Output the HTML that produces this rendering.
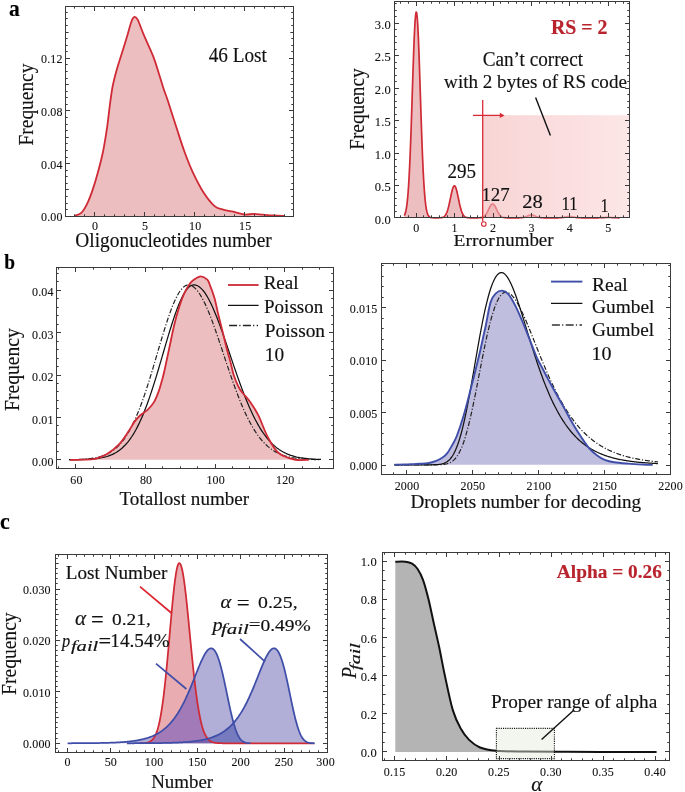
<!DOCTYPE html>
<html><head><meta charset="utf-8"><style>
html,body{margin:0;padding:0;background:#fff;width:685px;height:792px;overflow:hidden}
svg{display:block}
svg{will-change:transform}
</style></head><body>
<svg width="685" height="792" viewBox="0 0 685 792">
<rect width="685" height="792" fill="#fff"/>
<text transform="translate(8.95,16.40) scale(0.9295,1)" font-size="23.19" font-family="Liberation Serif" font-weight="bold" font-style="normal" fill="#000" stroke="#000" stroke-width="0.15">a</text>
<path d="M74.5,215.8 C75.63,215.32 79.27,214.75 81.3,212.9 C83.33,211.05 84.88,208.33 86.7,204.7 C88.52,201.07 90.38,196.3 92.2,191.1 C94.02,185.9 95.8,180.07 97.6,173.5 C99.4,166.93 101.42,159.4 103,151.7 C104.58,144 105.97,135 107.1,127.3 C108.23,119.6 108.88,112.3 109.8,105.5 C110.72,98.7 111.47,92.38 112.6,86.5 C113.73,80.62 115.02,75.85 116.6,70.2 C118.18,64.55 120.28,58.48 122.1,52.6 C123.92,46.72 125.92,40.17 127.5,34.9 C129.08,29.63 130.42,24 131.6,21 C132.78,18 133.57,17.08 134.6,16.9 C135.63,16.72 136.27,16.9 137.8,19.9 C139.33,22.9 141.22,28.78 143.8,34.9 C146.38,41.02 150.82,50.27 153.3,56.6 C155.78,62.93 157,67.58 158.7,72.9 C160.4,78.22 161.93,83.73 163.5,88.5 C165.07,93.27 165.97,95.07 168.1,101.5 C170.23,107.93 173.58,118.77 176.3,127.1 C179.02,135.43 181.68,144.05 184.4,151.5 C187.12,158.95 189.43,165.02 192.6,171.8 C195.77,178.58 199.78,186.53 203.4,192.2 C207.02,197.87 211.13,202.93 214.3,205.8 C217.47,208.67 219.25,208.42 222.4,209.4 C225.55,210.38 229.58,210.85 233.2,211.7 C236.82,212.55 240.7,214.13 244.1,214.5 C247.5,214.87 250.43,213.87 253.6,213.9 C256.77,213.93 259.7,214.43 263.1,214.7 C266.5,214.97 270.38,215.3 274,215.5 C277.62,215.7 283,215.83 284.8,215.9 L284.8,216 L74.5,216 Z" fill="#edbec0"/>
<path d="M74.5,215.8 C75.63,215.32 79.27,214.75 81.3,212.9 C83.33,211.05 84.88,208.33 86.7,204.7 C88.52,201.07 90.38,196.3 92.2,191.1 C94.02,185.9 95.8,180.07 97.6,173.5 C99.4,166.93 101.42,159.4 103,151.7 C104.58,144 105.97,135 107.1,127.3 C108.23,119.6 108.88,112.3 109.8,105.5 C110.72,98.7 111.47,92.38 112.6,86.5 C113.73,80.62 115.02,75.85 116.6,70.2 C118.18,64.55 120.28,58.48 122.1,52.6 C123.92,46.72 125.92,40.17 127.5,34.9 C129.08,29.63 130.42,24 131.6,21 C132.78,18 133.57,17.08 134.6,16.9 C135.63,16.72 136.27,16.9 137.8,19.9 C139.33,22.9 141.22,28.78 143.8,34.9 C146.38,41.02 150.82,50.27 153.3,56.6 C155.78,62.93 157,67.58 158.7,72.9 C160.4,78.22 161.93,83.73 163.5,88.5 C165.07,93.27 165.97,95.07 168.1,101.5 C170.23,107.93 173.58,118.77 176.3,127.1 C179.02,135.43 181.68,144.05 184.4,151.5 C187.12,158.95 189.43,165.02 192.6,171.8 C195.77,178.58 199.78,186.53 203.4,192.2 C207.02,197.87 211.13,202.93 214.3,205.8 C217.47,208.67 219.25,208.42 222.4,209.4 C225.55,210.38 229.58,210.85 233.2,211.7 C236.82,212.55 240.7,214.13 244.1,214.5 C247.5,214.87 250.43,213.87 253.6,213.9 C256.77,213.93 259.7,214.43 263.1,214.7 C266.5,214.97 270.38,215.3 274,215.5 C277.62,215.7 283,215.83 284.8,215.9" fill="none" stroke="#cf2a35" stroke-width="1.8"/>
<rect x="65.5" y="6.5" width="228" height="210" fill="none" stroke="#3a3a3a" stroke-width="1"/>
<path d="M74.5,216.5v-2.2M74.5,6.5v2.2M84.5,216.5v-2.2M84.5,6.5v2.2M94.5,216.5v-4.5M94.5,6.5v4.5M104.5,216.5v-2.2M104.5,6.5v2.2M114.5,216.5v-2.2M114.5,6.5v2.2M124.5,216.5v-2.2M124.5,6.5v2.2M134.5,216.5v-2.2M134.5,6.5v2.2M144.5,216.5v-4.5M144.5,6.5v4.5M154.5,216.5v-2.2M154.5,6.5v2.2M164.5,216.5v-2.2M164.5,6.5v2.2M174.5,216.5v-2.2M174.5,6.5v2.2M184.5,216.5v-2.2M184.5,6.5v2.2M194.5,216.5v-4.5M194.5,6.5v4.5M204.5,216.5v-2.2M204.5,6.5v2.2M214.5,216.5v-2.2M214.5,6.5v2.2M224.5,216.5v-2.2M224.5,6.5v2.2M234.5,216.5v-2.2M234.5,6.5v2.2M244.5,216.5v-4.5M244.5,6.5v4.5M254.5,216.5v-2.2M254.5,6.5v2.2M264.5,216.5v-2.2M264.5,6.5v2.2M274.5,216.5v-2.2M274.5,6.5v2.2M284.5,216.5v-2.2M284.5,6.5v2.2M65.5,209.5h2.2M293.5,209.5h-2.2M65.5,203.5h2.2M293.5,203.5h-2.2M65.5,196.5h2.2M293.5,196.5h-2.2M65.5,189.5h3.2M293.5,189.5h-3.2M65.5,183.5h2.2M293.5,183.5h-2.2M65.5,176.5h2.2M293.5,176.5h-2.2M65.5,170.5h2.2M293.5,170.5h-2.2M65.5,163.5h4.5M293.5,163.5h-4.5M65.5,157.5h2.2M293.5,157.5h-2.2M65.5,150.5h2.2M293.5,150.5h-2.2M65.5,143.5h2.2M293.5,143.5h-2.2M65.5,137.5h3.2M293.5,137.5h-3.2M65.5,130.5h2.2M293.5,130.5h-2.2M65.5,124.5h2.2M293.5,124.5h-2.2M65.5,117.5h2.2M293.5,117.5h-2.2M65.5,110.5h4.5M293.5,110.5h-4.5M65.5,104.5h2.2M293.5,104.5h-2.2M65.5,97.5h2.2M293.5,97.5h-2.2M65.5,91.5h2.2M293.5,91.5h-2.2M65.5,84.5h3.2M293.5,84.5h-3.2M65.5,78.5h2.2M293.5,78.5h-2.2M65.5,71.5h2.2M293.5,71.5h-2.2M65.5,64.5h2.2M293.5,64.5h-2.2M65.5,58.5h4.5M293.5,58.5h-4.5M65.5,51.5h2.2M293.5,51.5h-2.2M65.5,45.5h2.2M293.5,45.5h-2.2M65.5,38.5h2.2M293.5,38.5h-2.2M65.5,32.5h3.2M293.5,32.5h-3.2M65.5,25.5h2.2M293.5,25.5h-2.2M65.5,18.5h2.2M293.5,18.5h-2.2M65.5,12.5h2.2M293.5,12.5h-2.2" stroke="#3a3a3a" stroke-width="1" fill="none"/>
<text x="62.6" y="221.26" font-size="12" text-anchor="end" font-weight="normal" font-style="normal" fill="#111" stroke="#111" stroke-width="0.1" font-family="Liberation Serif" letter-spacing="0.15">0.00</text>
<text x="62.6" y="168.66" font-size="12" text-anchor="end" font-weight="normal" font-style="normal" fill="#111" stroke="#111" stroke-width="0.1" font-family="Liberation Serif" letter-spacing="0.15">0.04</text>
<text x="62.6" y="116.06" font-size="12" text-anchor="end" font-weight="normal" font-style="normal" fill="#111" stroke="#111" stroke-width="0.1" font-family="Liberation Serif" letter-spacing="0.15">0.08</text>
<text x="62.6" y="63.46" font-size="12" text-anchor="end" font-weight="normal" font-style="normal" fill="#111" stroke="#111" stroke-width="0.1" font-family="Liberation Serif" letter-spacing="0.15">0.12</text>
<text x="95.2" y="230.16" font-size="12" text-anchor="middle" font-weight="normal" font-style="normal" fill="#111" stroke="#111" stroke-width="0.1" font-family="Liberation Serif" letter-spacing="0.15">0</text>
<text x="145.2" y="230.16" font-size="12" text-anchor="middle" font-weight="normal" font-style="normal" fill="#111" stroke="#111" stroke-width="0.1" font-family="Liberation Serif" letter-spacing="0.15">5</text>
<text x="195.2" y="230.16" font-size="12" text-anchor="middle" font-weight="normal" font-style="normal" fill="#111" stroke="#111" stroke-width="0.1" font-family="Liberation Serif" letter-spacing="0.15">10</text>
<text x="245.2" y="230.16" font-size="12" text-anchor="middle" font-weight="normal" font-style="normal" fill="#111" stroke="#111" stroke-width="0.1" font-family="Liberation Serif" letter-spacing="0.15">15</text>
<text transform="translate(75.32,247.20) scale(0.9554,1)" font-size="20.29" font-family="Liberation Serif" font-weight="normal" font-style="normal" fill="#111" stroke="#111" stroke-width="0.15">Oligonucleotides number</text>
<text transform="translate(32.70,145.48) rotate(-90) scale(0.9555,1)" font-size="20.31" font-family="Liberation Serif" font-weight="normal" font-style="normal" fill="#111" stroke="#111" stroke-width="0.15">Frequency</text>
<text transform="translate(208.72,62.00) scale(0.9192,1)" font-size="20.92" font-family="Liberation Serif" font-weight="normal" font-style="normal" fill="#111" stroke="#111" stroke-width="0.15">46 Lost</text>
<path d="M404.3,215.51 L404.84,214.41 L405.38,212.86 L405.91,210.73 L406.45,207.86 L406.99,204.08 L407.53,199.21 L408.07,193.05 L408.6,185.45 L409.14,176.28 L409.68,165.45 L410.22,152.99 L410.76,139 L411.29,123.71 L411.83,107.46 L412.37,90.73 L412.91,74.08 L413.45,58.17 L413.98,43.68 L414.52,31.27 L415.06,21.56 L415.6,15.05 L416.14,12.07 L416.67,12.8 L417.21,17.18 L417.75,24.99 L418.29,35.82 L418.83,49.12 L419.36,64.25 L419.9,80.53 L420.44,97.28 L420.98,113.89 L421.52,129.81 L422.05,144.63 L422.59,158.05 L423.13,169.88 L423.67,180.05 L424.21,188.6 L424.74,195.62 L425.28,201.25 L425.82,205.68 L426.36,209.08 L426.9,211.64 L427.43,213.52 L427.97,214.88 L428.51,215.85 L429.05,216.52 L429.59,216.97 L430.12,217.28 L430.66,217.47 L431.2,217.6 L431.74,217.68 L432.28,217.73 L432.81,217.76 L433.35,217.78 L433.89,217.79 L434.43,217.79 L434.97,217.8 L435.5,217.8 L436.04,217.8 L436.58,217.8 L437.12,217.8 L437.66,217.79 L438.19,217.79 L438.73,217.79 L439.27,217.77 L439.81,217.76 L440.35,217.73 L440.88,217.69 L441.42,217.63 L441.96,217.55 L442.5,217.42 L443.04,217.23 L443.57,216.98 L444.11,216.63 L444.65,216.16 L445.19,215.54 L445.73,214.75 L446.26,213.76 L446.8,212.53 L447.34,211.06 L447.88,209.33 L448.42,207.35 L448.95,205.13 L449.49,202.73 L450.03,200.18 L450.57,197.58 L451.11,195 L451.64,192.56 L452.18,190.36 L452.72,188.5 L453.26,187.08 L453.8,186.16 L454.33,185.8 L454.87,186.02 L455.41,186.8 L455.95,188.11 L456.49,189.87 L457.02,192 L457.56,194.39 L458.1,196.94 L458.64,199.54 L459.18,202.11 L459.71,204.56 L460.25,206.83 L460.79,208.87 L461.33,210.66 L461.87,212.19 L462.4,213.48 L462.94,214.53 L463.48,215.37 L464.02,216.02 L464.56,216.53 L465.09,216.9 L465.63,217.18 L466.17,217.38 L466.71,217.52 L467.25,217.62 L467.78,217.68 L468.32,217.73 L468.86,217.75 L469.4,217.77 L469.94,217.78 L470.47,217.79 L471.01,217.79 L471.55,217.8 L472.09,217.8 L472.63,217.8 L473.16,217.8 L473.7,217.8 L474.24,217.8 L474.78,217.8 L475.32,217.8 L475.85,217.8 L476.39,217.8 L476.93,217.79 L477.47,217.79 L478.01,217.78 L478.54,217.77 L479.08,217.75 L479.62,217.73 L480.16,217.69 L480.7,217.64 L481.23,217.56 L481.77,217.45 L482.31,217.3 L482.85,217.09 L483.39,216.83 L483.92,216.49 L484.46,216.06 L485,215.53 L485.54,214.9 L486.08,214.15 L486.61,213.3 L487.15,212.34 L487.69,211.3 L488.23,210.21 L488.77,209.08 L489.3,207.97 L489.84,206.92 L490.38,205.97 L490.92,205.17 L491.46,204.55 L491.99,204.16 L492.53,204 L493.07,204.09 L493.61,204.43 L494.15,204.99 L494.68,205.75 L495.22,206.67 L495.76,207.7 L496.3,208.8 L496.84,209.92 L497.37,211.03 L497.91,212.09 L498.45,213.06 L498.99,213.94 L499.53,214.72 L500.06,215.38 L500.6,215.93 L501.14,216.39 L501.68,216.75 L502.22,217.03 L502.75,217.25 L503.29,217.41 L503.83,217.53 L504.37,217.62 L504.91,217.68 L505.44,217.72 L505.98,217.75 L506.52,217.77 L507.06,217.78 L507.6,217.79 L508.13,217.79 L508.67,217.8 L509.21,217.8 L509.75,217.8 L510.29,217.8 L510.82,217.8 L511.36,217.8 L511.9,217.8 L512.44,217.8 L512.98,217.8 L513.51,217.8 L514.05,217.8 L514.59,217.8 L515.13,217.8 L515.67,217.8 L516.2,217.8 L516.74,217.8 L517.28,217.79 L517.82,217.79 L518.36,217.78 L518.89,217.78 L519.43,217.76 L519.97,217.75 L520.51,217.72 L521.05,217.69 L521.58,217.64 L522.12,217.59 L522.66,217.51 L523.2,217.42 L523.74,217.31 L524.27,217.17 L524.81,217.02 L525.35,216.84 L525.89,216.64 L526.43,216.43 L526.96,216.2 L527.5,215.97 L528.04,215.75 L528.58,215.54 L529.12,215.36 L529.65,215.2 L530.19,215.09 L530.73,215.02 L531.27,215 L531.81,215.03 L532.34,215.11 L532.88,215.24 L533.42,215.4 L533.96,215.59 L534.5,215.81 L535.03,216.03 L535.57,216.26 L536.11,216.48 L536.65,216.69 L537.19,216.89 L537.72,217.06 L538.26,217.21 L538.8,217.34 L539.34,217.45 L539.88,217.53 L540.41,217.6 L540.95,217.66 L541.49,217.7 L542.03,217.73 L542.57,217.75 L543.1,217.77 L543.64,217.78 L544.18,217.79 L544.72,217.79 L545.26,217.79 L545.79,217.8 L546.33,217.8 L546.87,217.8 L547.41,217.8 L547.95,217.8 L548.48,217.8 L549.02,217.8 L549.56,217.8 L550.1,217.8 L550.64,217.8 L551.17,217.8 L551.71,217.8 L552.25,217.8 L552.79,217.8 L553.33,217.8 L553.86,217.8 L554.4,217.8 L554.94,217.8 L555.48,217.8 L556.02,217.8 L556.55,217.79 L557.09,217.79 L557.63,217.79 L558.17,217.78 L558.71,217.77 L559.24,217.75 L559.78,217.74 L560.32,217.71 L560.86,217.68 L561.4,217.64 L561.93,217.59 L562.47,217.53 L563.01,217.47 L563.55,217.39 L564.09,217.3 L564.62,217.2 L565.16,217.1 L565.7,216.99 L566.24,216.89 L566.78,216.79 L567.31,216.7 L567.85,216.62 L568.39,216.56 L568.93,216.52 L569.47,216.5 L570,216.51 L570.54,216.54 L571.08,216.59 L571.62,216.66 L572.16,216.74 L572.69,216.84 L573.23,216.94 L573.77,217.05 L574.31,217.15 L574.85,217.25 L575.38,217.34 L575.92,217.43 L576.46,217.5 L577,217.56 L577.54,217.62 L578.07,217.66 L578.61,217.7 L579.15,217.72 L579.69,217.75 L580.23,217.76 L580.76,217.77 L581.3,217.78 L581.84,217.79 L582.38,217.79 L582.92,217.79 L583.45,217.8 L583.99,217.8 L584.53,217.8 L585.07,217.8 L585.61,217.8 L586.14,217.8 L586.68,217.8 L587.22,217.8 L587.76,217.8 L588.3,217.8 L588.83,217.8 L589.37,217.8 L589.91,217.8 L590.45,217.8 L590.99,217.8 L591.52,217.8 L592.06,217.8 L592.6,217.8 L593.14,217.8 L593.68,217.8 L594.21,217.8 L594.75,217.8 L595.29,217.8 L595.83,217.8 L596.37,217.79 L596.9,217.79 L597.44,217.79 L597.98,217.78 L598.52,217.78 L599.06,217.77 L599.59,217.76 L600.13,217.74 L600.67,217.73 L601.21,217.71 L601.75,217.68 L602.28,217.66 L602.82,217.63 L603.36,217.6 L603.9,217.56 L604.44,217.53 L604.97,217.5 L605.51,217.47 L606.05,217.44 L606.59,217.42 L607.13,217.41 L607.66,217.4 L608.2,217.4 L608.74,217.41 L609.28,217.42 L609.82,217.44 L610.35,217.46 L610.89,217.49 L611.43,217.52 L611.97,217.56 L612.51,217.59 L613.04,217.62 L613.58,217.65 L614.12,217.68 L614.66,217.7 L615.2,217.72 L615.73,217.74 L616.27,217.75 L616.81,217.76 L617.35,217.77 L617.89,217.78 L618.42,217.79 L618.96,217.79 L619.5,217.79 L619.5,217.8 L404.3,217.8 Z" fill="#edbec0"/>
<path d="M404.3,215.51 L404.84,214.41 L405.38,212.86 L405.91,210.73 L406.45,207.86 L406.99,204.08 L407.53,199.21 L408.07,193.05 L408.6,185.45 L409.14,176.28 L409.68,165.45 L410.22,152.99 L410.76,139 L411.29,123.71 L411.83,107.46 L412.37,90.73 L412.91,74.08 L413.45,58.17 L413.98,43.68 L414.52,31.27 L415.06,21.56 L415.6,15.05 L416.14,12.07 L416.67,12.8 L417.21,17.18 L417.75,24.99 L418.29,35.82 L418.83,49.12 L419.36,64.25 L419.9,80.53 L420.44,97.28 L420.98,113.89 L421.52,129.81 L422.05,144.63 L422.59,158.05 L423.13,169.88 L423.67,180.05 L424.21,188.6 L424.74,195.62 L425.28,201.25 L425.82,205.68 L426.36,209.08 L426.9,211.64 L427.43,213.52 L427.97,214.88 L428.51,215.85 L429.05,216.52 L429.59,216.97 L430.12,217.28 L430.66,217.47 L431.2,217.6 L431.74,217.68 L432.28,217.73 L432.81,217.76 L433.35,217.78 L433.89,217.79 L434.43,217.79 L434.97,217.8 L435.5,217.8 L436.04,217.8 L436.58,217.8 L437.12,217.8 L437.66,217.79 L438.19,217.79 L438.73,217.79 L439.27,217.77 L439.81,217.76 L440.35,217.73 L440.88,217.69 L441.42,217.63 L441.96,217.55 L442.5,217.42 L443.04,217.23 L443.57,216.98 L444.11,216.63 L444.65,216.16 L445.19,215.54 L445.73,214.75 L446.26,213.76 L446.8,212.53 L447.34,211.06 L447.88,209.33 L448.42,207.35 L448.95,205.13 L449.49,202.73 L450.03,200.18 L450.57,197.58 L451.11,195 L451.64,192.56 L452.18,190.36 L452.72,188.5 L453.26,187.08 L453.8,186.16 L454.33,185.8 L454.87,186.02 L455.41,186.8 L455.95,188.11 L456.49,189.87 L457.02,192 L457.56,194.39 L458.1,196.94 L458.64,199.54 L459.18,202.11 L459.71,204.56 L460.25,206.83 L460.79,208.87 L461.33,210.66 L461.87,212.19 L462.4,213.48 L462.94,214.53 L463.48,215.37 L464.02,216.02 L464.56,216.53 L465.09,216.9 L465.63,217.18 L466.17,217.38 L466.71,217.52 L467.25,217.62 L467.78,217.68 L468.32,217.73 L468.86,217.75 L469.4,217.77 L469.94,217.78 L470.47,217.79 L471.01,217.79 L471.55,217.8 L472.09,217.8 L472.63,217.8 L473.16,217.8 L473.7,217.8 L474.24,217.8 L474.78,217.8 L475.32,217.8 L475.85,217.8 L476.39,217.8 L476.93,217.79 L477.47,217.79 L478.01,217.78 L478.54,217.77 L479.08,217.75 L479.62,217.73 L480.16,217.69 L480.7,217.64 L481.23,217.56 L481.77,217.45 L482.31,217.3 L482.85,217.09 L483.39,216.83 L483.92,216.49 L484.46,216.06 L485,215.53 L485.54,214.9 L486.08,214.15 L486.61,213.3 L487.15,212.34 L487.69,211.3 L488.23,210.21 L488.77,209.08 L489.3,207.97 L489.84,206.92 L490.38,205.97 L490.92,205.17 L491.46,204.55 L491.99,204.16 L492.53,204 L493.07,204.09 L493.61,204.43 L494.15,204.99 L494.68,205.75 L495.22,206.67 L495.76,207.7 L496.3,208.8 L496.84,209.92 L497.37,211.03 L497.91,212.09 L498.45,213.06 L498.99,213.94 L499.53,214.72 L500.06,215.38 L500.6,215.93 L501.14,216.39 L501.68,216.75 L502.22,217.03 L502.75,217.25 L503.29,217.41 L503.83,217.53 L504.37,217.62 L504.91,217.68 L505.44,217.72 L505.98,217.75 L506.52,217.77 L507.06,217.78 L507.6,217.79 L508.13,217.79 L508.67,217.8 L509.21,217.8 L509.75,217.8 L510.29,217.8 L510.82,217.8 L511.36,217.8 L511.9,217.8 L512.44,217.8 L512.98,217.8 L513.51,217.8 L514.05,217.8 L514.59,217.8 L515.13,217.8 L515.67,217.8 L516.2,217.8 L516.74,217.8 L517.28,217.79 L517.82,217.79 L518.36,217.78 L518.89,217.78 L519.43,217.76 L519.97,217.75 L520.51,217.72 L521.05,217.69 L521.58,217.64 L522.12,217.59 L522.66,217.51 L523.2,217.42 L523.74,217.31 L524.27,217.17 L524.81,217.02 L525.35,216.84 L525.89,216.64 L526.43,216.43 L526.96,216.2 L527.5,215.97 L528.04,215.75 L528.58,215.54 L529.12,215.36 L529.65,215.2 L530.19,215.09 L530.73,215.02 L531.27,215 L531.81,215.03 L532.34,215.11 L532.88,215.24 L533.42,215.4 L533.96,215.59 L534.5,215.81 L535.03,216.03 L535.57,216.26 L536.11,216.48 L536.65,216.69 L537.19,216.89 L537.72,217.06 L538.26,217.21 L538.8,217.34 L539.34,217.45 L539.88,217.53 L540.41,217.6 L540.95,217.66 L541.49,217.7 L542.03,217.73 L542.57,217.75 L543.1,217.77 L543.64,217.78 L544.18,217.79 L544.72,217.79 L545.26,217.79 L545.79,217.8 L546.33,217.8 L546.87,217.8 L547.41,217.8 L547.95,217.8 L548.48,217.8 L549.02,217.8 L549.56,217.8 L550.1,217.8 L550.64,217.8 L551.17,217.8 L551.71,217.8 L552.25,217.8 L552.79,217.8 L553.33,217.8 L553.86,217.8 L554.4,217.8 L554.94,217.8 L555.48,217.8 L556.02,217.8 L556.55,217.79 L557.09,217.79 L557.63,217.79 L558.17,217.78 L558.71,217.77 L559.24,217.75 L559.78,217.74 L560.32,217.71 L560.86,217.68 L561.4,217.64 L561.93,217.59 L562.47,217.53 L563.01,217.47 L563.55,217.39 L564.09,217.3 L564.62,217.2 L565.16,217.1 L565.7,216.99 L566.24,216.89 L566.78,216.79 L567.31,216.7 L567.85,216.62 L568.39,216.56 L568.93,216.52 L569.47,216.5 L570,216.51 L570.54,216.54 L571.08,216.59 L571.62,216.66 L572.16,216.74 L572.69,216.84 L573.23,216.94 L573.77,217.05 L574.31,217.15 L574.85,217.25 L575.38,217.34 L575.92,217.43 L576.46,217.5 L577,217.56 L577.54,217.62 L578.07,217.66 L578.61,217.7 L579.15,217.72 L579.69,217.75 L580.23,217.76 L580.76,217.77 L581.3,217.78 L581.84,217.79 L582.38,217.79 L582.92,217.79 L583.45,217.8 L583.99,217.8 L584.53,217.8 L585.07,217.8 L585.61,217.8 L586.14,217.8 L586.68,217.8 L587.22,217.8 L587.76,217.8 L588.3,217.8 L588.83,217.8 L589.37,217.8 L589.91,217.8 L590.45,217.8 L590.99,217.8 L591.52,217.8 L592.06,217.8 L592.6,217.8 L593.14,217.8 L593.68,217.8 L594.21,217.8 L594.75,217.8 L595.29,217.8 L595.83,217.8 L596.37,217.79 L596.9,217.79 L597.44,217.79 L597.98,217.78 L598.52,217.78 L599.06,217.77 L599.59,217.76 L600.13,217.74 L600.67,217.73 L601.21,217.71 L601.75,217.68 L602.28,217.66 L602.82,217.63 L603.36,217.6 L603.9,217.56 L604.44,217.53 L604.97,217.5 L605.51,217.47 L606.05,217.44 L606.59,217.42 L607.13,217.41 L607.66,217.4 L608.2,217.4 L608.74,217.41 L609.28,217.42 L609.82,217.44 L610.35,217.46 L610.89,217.49 L611.43,217.52 L611.97,217.56 L612.51,217.59 L613.04,217.62 L613.58,217.65 L614.12,217.68 L614.66,217.7 L615.2,217.72 L615.73,217.74 L616.27,217.75 L616.81,217.76 L617.35,217.77 L617.89,217.78 L618.42,217.79 L618.96,217.79 L619.5,217.79" fill="none" stroke="#cf2a35" stroke-width="1.7" stroke-linejoin="round"/>
<defs><linearGradient id="ovg" x1="0" y1="0" x2="1" y2="0"><stop offset="0" stop-color="#f3b8b8"/><stop offset="0.5" stop-color="#f8c7c8"/><stop offset="1" stop-color="#fbd6d7"/></linearGradient></defs>
<rect x="482.4" y="115.2" width="147.2" height="102.5" fill="url(#ovg)" fill-opacity="0.6"/>
<rect x="394.5" y="1.5" width="235" height="216" fill="none" stroke="#3a3a3a" stroke-width="1"/>
<path d="M400.5,217.5v-2.2M400.5,1.5v2.2M408.5,217.5v-2.2M408.5,1.5v2.2M416.5,217.5v-4.5M416.5,1.5v4.5M423.5,217.5v-2.2M423.5,1.5v2.2M431.5,217.5v-2.2M431.5,1.5v2.2M439.5,217.5v-2.2M439.5,1.5v2.2M447.5,217.5v-2.2M447.5,1.5v2.2M454.5,217.5v-4.5M454.5,1.5v4.5M462.5,217.5v-2.2M462.5,1.5v2.2M470.5,217.5v-2.2M470.5,1.5v2.2M477.5,217.5v-2.2M477.5,1.5v2.2M485.5,217.5v-2.2M485.5,1.5v2.2M493.5,217.5v-4.5M493.5,1.5v4.5M500.5,217.5v-2.2M500.5,1.5v2.2M508.5,217.5v-2.2M508.5,1.5v2.2M516.5,217.5v-2.2M516.5,1.5v2.2M523.5,217.5v-2.2M523.5,1.5v2.2M531.5,217.5v-4.5M531.5,1.5v4.5M539.5,217.5v-2.2M539.5,1.5v2.2M546.5,217.5v-2.2M546.5,1.5v2.2M554.5,217.5v-2.2M554.5,1.5v2.2M562.5,217.5v-2.2M562.5,1.5v2.2M569.5,217.5v-4.5M569.5,1.5v4.5M577.5,217.5v-2.2M577.5,1.5v2.2M585.5,217.5v-2.2M585.5,1.5v2.2M592.5,217.5v-2.2M592.5,1.5v2.2M600.5,217.5v-2.2M600.5,1.5v2.2M608.5,217.5v-4.5M608.5,1.5v4.5M615.5,217.5v-2.2M615.5,1.5v2.2M623.5,217.5v-2.2M623.5,1.5v2.2M394.5,211.5h2.2M629.5,211.5h-2.2M394.5,205.5h2.2M629.5,205.5h-2.2M394.5,198.5h2.2M629.5,198.5h-2.2M394.5,192.5h2.2M629.5,192.5h-2.2M394.5,185.5h4.5M629.5,185.5h-4.5M394.5,179.5h2.2M629.5,179.5h-2.2M394.5,172.5h2.2M629.5,172.5h-2.2M394.5,166.5h2.2M629.5,166.5h-2.2M394.5,159.5h2.2M629.5,159.5h-2.2M394.5,153.5h4.5M629.5,153.5h-4.5M394.5,146.5h2.2M629.5,146.5h-2.2M394.5,140.5h2.2M629.5,140.5h-2.2M394.5,133.5h2.2M629.5,133.5h-2.2M394.5,127.5h2.2M629.5,127.5h-2.2M394.5,120.5h4.5M629.5,120.5h-4.5M394.5,114.5h2.2M629.5,114.5h-2.2M394.5,107.5h2.2M629.5,107.5h-2.2M394.5,101.5h2.2M629.5,101.5h-2.2M394.5,94.5h2.2M629.5,94.5h-2.2M394.5,88.5h4.5M629.5,88.5h-4.5M394.5,81.5h2.2M629.5,81.5h-2.2M394.5,75.5h2.2M629.5,75.5h-2.2M394.5,68.5h2.2M629.5,68.5h-2.2M394.5,62.5h2.2M629.5,62.5h-2.2M394.5,55.5h4.5M629.5,55.5h-4.5M394.5,49.5h2.2M629.5,49.5h-2.2M394.5,42.5h2.2M629.5,42.5h-2.2M394.5,36.5h2.2M629.5,36.5h-2.2M394.5,29.5h2.2M629.5,29.5h-2.2M394.5,23.5h4.5M629.5,23.5h-4.5M394.5,16.5h2.2M629.5,16.5h-2.2M394.5,10.5h2.2M629.5,10.5h-2.2M394.5,3.5h2.2M629.5,3.5h-2.2" stroke="#3a3a3a" stroke-width="1" fill="none"/>
<text x="390.9" y="223.82" font-size="12.5" text-anchor="end" font-weight="normal" font-style="normal" fill="#111" stroke="#111" stroke-width="0.1" font-family="Liberation Serif" letter-spacing="0.15">0.0</text>
<text x="390.9" y="191.32" font-size="12.5" text-anchor="end" font-weight="normal" font-style="normal" fill="#111" stroke="#111" stroke-width="0.1" font-family="Liberation Serif" letter-spacing="0.15">0.5</text>
<text x="390.9" y="158.82" font-size="12.5" text-anchor="end" font-weight="normal" font-style="normal" fill="#111" stroke="#111" stroke-width="0.1" font-family="Liberation Serif" letter-spacing="0.15">1.0</text>
<text x="390.9" y="126.33" font-size="12.5" text-anchor="end" font-weight="normal" font-style="normal" fill="#111" stroke="#111" stroke-width="0.1" font-family="Liberation Serif" letter-spacing="0.15">1.5</text>
<text x="390.9" y="93.83" font-size="12.5" text-anchor="end" font-weight="normal" font-style="normal" fill="#111" stroke="#111" stroke-width="0.1" font-family="Liberation Serif" letter-spacing="0.15">2.0</text>
<text x="390.9" y="61.33" font-size="12.5" text-anchor="end" font-weight="normal" font-style="normal" fill="#111" stroke="#111" stroke-width="0.1" font-family="Liberation Serif" letter-spacing="0.15">2.5</text>
<text x="390.9" y="28.82" font-size="12.5" text-anchor="end" font-weight="normal" font-style="normal" fill="#111" stroke="#111" stroke-width="0.1" font-family="Liberation Serif" letter-spacing="0.15">3.0</text>
<text x="416.3" y="232.16" font-size="12" text-anchor="middle" font-weight="normal" font-style="normal" fill="#111" stroke="#111" stroke-width="0.1" font-family="Liberation Serif" letter-spacing="0.15">0</text>
<text x="454.7" y="232.16" font-size="12" text-anchor="middle" font-weight="normal" font-style="normal" fill="#111" stroke="#111" stroke-width="0.1" font-family="Liberation Serif" letter-spacing="0.15">1</text>
<text x="493.1" y="232.16" font-size="12" text-anchor="middle" font-weight="normal" font-style="normal" fill="#111" stroke="#111" stroke-width="0.1" font-family="Liberation Serif" letter-spacing="0.15">2</text>
<text x="531.5" y="232.16" font-size="12" text-anchor="middle" font-weight="normal" font-style="normal" fill="#111" stroke="#111" stroke-width="0.1" font-family="Liberation Serif" letter-spacing="0.15">3</text>
<text x="569.9" y="232.16" font-size="12" text-anchor="middle" font-weight="normal" font-style="normal" fill="#111" stroke="#111" stroke-width="0.1" font-family="Liberation Serif" letter-spacing="0.15">4</text>
<text x="608.3" y="232.16" font-size="12" text-anchor="middle" font-weight="normal" font-style="normal" fill="#111" stroke="#111" stroke-width="0.1" font-family="Liberation Serif" letter-spacing="0.15">5</text>
<text transform="translate(453.61,245.50) scale(1.1128,1)" font-size="17.54" font-family="Liberation Serif" font-weight="normal" font-style="normal" fill="#111" stroke="#111" stroke-width="0.15">Error</text>
<text transform="translate(495.82,245.50) scale(1.0356,1)" font-size="18.26" font-family="Liberation Serif" font-weight="normal" font-style="normal" fill="#111" stroke="#111" stroke-width="0.15">number</text>
<text transform="translate(363.70,149.78) rotate(-90) scale(0.9508,1)" font-size="20.31" font-family="Liberation Serif" font-weight="normal" font-style="normal" fill="#111" stroke="#111" stroke-width="0.15">Frequency</text>
<text transform="translate(550.90,34.40) scale(0.9870,1)" font-size="20.15" font-family="Liberation Serif" font-weight="bold" font-style="normal" fill="#b8232d" stroke="#b8232d" stroke-width="0.15">RS = 2</text>
<text transform="translate(482.63,66.00) scale(0.9459,1)" font-size="20.31" font-family="Liberation Serif" font-weight="normal" font-style="normal" fill="#111" stroke="#111" stroke-width="0.15">Can’t correct</text>
<text transform="translate(444.10,88.40) scale(1.0114,1)" font-size="18.87" font-family="Liberation Serif" font-weight="normal" font-style="normal" fill="#111" stroke="#111" stroke-width="0.15">with 2 bytes of RS code</text>
<text transform="translate(447.44,178.10) scale(0.9469,1)" font-size="20.15" font-family="Liberation Serif" font-weight="normal" font-style="normal" fill="#111" stroke="#111" stroke-width="0.15">295</text>
<text transform="translate(481.40,200.90) scale(0.9752,1)" font-size="19.39" font-family="Liberation Serif" font-weight="normal" font-style="normal" fill="#111" stroke="#111" stroke-width="0.15">127</text>
<text transform="translate(522.18,208.00) scale(1.0514,1)" font-size="19.54" font-family="Liberation Serif" font-weight="normal" font-style="normal" fill="#111" stroke="#111" stroke-width="0.15">28</text>
<text transform="translate(561.39,210.00) scale(0.8590,1)" font-size="19.55" font-family="Liberation Serif" font-weight="normal" font-style="normal" fill="#111" stroke="#111" stroke-width="0.15">11</text>
<text transform="translate(600.43,211.70) scale(0.8599,1)" font-size="18.94" font-family="Liberation Serif" font-weight="normal" font-style="normal" fill="#111" stroke="#111" stroke-width="0.15">1</text>
<path d="M482.7,100 V221.6" stroke="#d92b36" stroke-width="1.3"/>
<circle cx="483.8" cy="224" r="2.3" fill="#fff" stroke="#d92b36" stroke-width="1.1"/>
<path d="M473,115.4 H501" stroke="#d92b36" stroke-width="1.3"/>
<path d="M504.6,115.4 L499.8,112.8 L499.8,118 Z" fill="#d92b36"/>
<path d="M535.6,97.6 L550.4,135.6" stroke="#111" stroke-width="1.4"/>
<text transform="translate(4.21,269.20) scale(0.9174,1)" font-size="21.16" font-family="Liberation Serif" font-weight="bold" font-style="normal" fill="#000" stroke="#000" stroke-width="0.15">b</text>
<path d="M70.1,459.9 C72.08,459.85 77.85,459.78 82,459.6 C86.15,459.42 90.83,459.73 95,458.8 C99.17,457.87 103,456.4 107,454 C111,451.6 115.4,448.2 119,444.4 C122.6,440.6 126,435 128.6,431.2 C131.2,427.4 132.6,424.3 134.6,421.6 C136.6,418.9 138.4,417 140.6,415 C142.8,413 145.6,411.7 147.8,409.6 C150,407.5 152,405.4 153.8,402.4 C155.6,399.4 157.2,395.4 158.6,391.6 C160,387.8 161.2,383.2 162.2,379.6 C163.2,376 163.38,375.43 164.6,370 C165.82,364.57 167.9,354.5 169.5,347 C171.1,339.5 172.63,331.5 174.2,325 C175.77,318.5 177.32,313.05 178.9,308 C180.48,302.95 181.95,298.65 183.7,294.7 C185.45,290.75 187.67,286.82 189.4,284.3 C191.13,281.78 192.22,280.93 194.1,279.6 C195.98,278.27 198.5,276.3 200.7,276.3 C202.9,276.3 205.75,278.1 207.3,279.6 C208.85,281.1 208.82,282.27 210,285.3 C211.18,288.33 212.97,292.72 214.4,297.8 C215.83,302.88 217.2,310.02 218.6,315.8 C220,321.58 221.42,326.93 222.8,332.5 C224.18,338.07 225.52,343.88 226.9,349.2 C228.28,354.52 229.93,360 231.1,364.4 C232.27,368.8 232.43,371.47 233.9,375.6 C235.37,379.73 237.13,384.73 239.9,389.2 C242.67,393.67 247.4,397.98 250.5,402.4 C253.6,406.82 255.63,409.95 258.5,415.7 C261.37,421.45 264.38,430.72 267.7,436.9 C271.02,443.08 273.97,449.03 278.4,452.8 C282.83,456.57 289.23,458.33 294.3,459.5 C299.37,460.67 306.38,459.75 308.8,459.8 L308.8,459.8 L70.1,459.8 Z" fill="#edbec0"/>
<path d="M69,459.69 L70.26,459.67 L71.52,459.65 L72.78,459.62 L74.04,459.6 L75.3,459.56 L76.56,459.52 L77.82,459.48 L79.08,459.43 L80.34,459.38 L81.6,459.31 L82.86,459.24 L84.12,459.16 L85.38,459.07 L86.64,458.96 L87.9,458.85 L89.16,458.71 L90.42,458.57 L91.68,458.4 L92.94,458.21 L94.2,458 L95.46,457.77 L96.72,457.51 L97.98,457.22 L99.24,456.9 L100.5,456.55 L101.76,456.16 L103.02,455.73 L104.28,455.25 L105.54,454.73 L106.8,454.16 L108.06,453.53 L109.32,452.85 L110.58,452.1 L111.84,451.29 L113.1,450.4 L114.36,449.45 L115.62,448.41 L116.88,447.29 L118.14,446.08 L119.4,444.78 L120.66,443.38 L121.92,441.88 L123.18,440.28 L124.44,438.57 L125.7,436.75 L126.96,434.81 L128.22,432.75 L129.48,430.57 L130.74,428.27 L132,425.84 L133.26,423.29 L134.52,420.61 L135.78,417.8 L137.04,414.86 L138.3,411.8 L139.56,408.61 L140.82,405.3 L142.08,401.87 L143.34,398.32 L144.6,394.67 L145.86,390.91 L147.12,387.05 L148.38,383.11 L149.64,379.08 L150.9,374.98 L152.16,370.82 L153.42,366.6 L154.68,362.35 L155.94,358.07 L157.2,353.78 L158.46,349.49 L159.72,345.21 L160.98,340.96 L162.24,336.75 L163.5,332.61 L164.76,328.54 L166.02,324.56 L167.28,320.69 L168.54,316.95 L169.8,313.35 L171.06,309.9 L172.32,306.62 L173.58,303.52 L174.84,300.63 L176.1,297.95 L177.36,295.49 L178.62,293.27 L179.88,291.29 L181.14,289.57 L182.4,288.12 L183.66,286.93 L184.92,286.03 L186.18,285.41 L187.44,285.07 L188.7,285.01 L189.96,285.2 L191.22,285.6 L192.48,286.24 L193.74,287.09 L195,288.16 L196.26,289.44 L197.52,290.93 L198.78,292.62 L200.04,294.51 L201.3,296.59 L202.56,298.85 L203.82,301.28 L205.08,303.88 L206.34,306.63 L207.6,309.52 L208.86,312.56 L210.12,315.71 L211.38,318.98 L212.64,322.36 L213.9,325.82 L215.16,329.37 L216.42,332.98 L217.68,336.66 L218.94,340.38 L220.2,344.14 L221.46,347.92 L222.72,351.72 L223.98,355.53 L225.24,359.33 L226.5,363.12 L227.76,366.88 L229.02,370.62 L230.28,374.31 L231.54,377.95 L232.8,381.54 L234.06,385.07 L235.32,388.54 L236.58,391.93 L237.84,395.24 L239.1,398.47 L240.36,401.61 L241.62,404.66 L242.88,407.62 L244.14,410.49 L245.4,413.25 L246.66,415.92 L247.92,418.49 L249.18,420.96 L250.44,423.33 L251.7,425.6 L252.96,427.76 L254.22,429.83 L255.48,431.81 L256.74,433.68 L258,435.46 L259.26,437.15 L260.52,438.75 L261.78,440.26 L263.04,441.69 L264.3,443.03 L265.56,444.3 L266.82,445.48 L268.08,446.6 L269.34,447.64 L270.6,448.61 L271.86,449.52 L273.12,450.37 L274.38,451.16 L275.64,451.89 L276.9,452.57 L278.16,453.2 L279.42,453.79 L280.68,454.33 L281.94,454.82 L283.2,455.28 L284.46,455.7 L285.72,456.09 L286.98,456.44 L288.24,456.77 L289.5,457.06 L290.76,457.33 L292.02,457.58 L293.28,457.8 L294.54,458.01 L295.8,458.19 L297.06,458.36 L298.32,458.51 L299.58,458.65 L300.84,458.78 L302.1,458.89 L303.36,458.99 L304.62,459.08 L305.88,459.16 L307.14,459.23 L308.4,459.3 L309.66,459.36 L310.92,459.41 L312.18,459.46 L313.44,459.5 L314.7,459.53 L315.96,459.57 L317.22,459.59 L318.48,459.62 L319.74,459.64 L321,459.66" fill="none" stroke="#222" stroke-width="1.2" stroke-dasharray="5,1.8,1.2,1.8"/>
<path d="M69,459.75 L70.26,459.74 L71.52,459.73 L72.78,459.72 L74.04,459.71 L75.3,459.69 L76.56,459.67 L77.82,459.65 L79.08,459.62 L80.34,459.6 L81.6,459.56 L82.86,459.53 L84.12,459.48 L85.38,459.43 L86.64,459.38 L87.9,459.31 L89.16,459.24 L90.42,459.16 L91.68,459.06 L92.94,458.96 L94.2,458.84 L95.46,458.71 L96.72,458.56 L97.98,458.39 L99.24,458.2 L100.5,457.99 L101.76,457.75 L103.02,457.49 L104.28,457.19 L105.54,456.87 L106.8,456.51 L108.06,456.11 L109.32,455.67 L110.58,455.19 L111.84,454.66 L113.1,454.07 L114.36,453.43 L115.62,452.73 L116.88,451.97 L118.14,451.14 L119.4,450.24 L120.66,449.26 L121.92,448.2 L123.18,447.05 L124.44,445.82 L125.7,444.49 L126.96,443.06 L128.22,441.53 L129.48,439.89 L130.74,438.15 L132,436.28 L133.26,434.3 L134.52,432.2 L135.78,429.98 L137.04,427.63 L138.3,425.15 L139.56,422.54 L140.82,419.8 L142.08,416.94 L143.34,413.94 L144.6,410.82 L145.86,407.57 L147.12,404.2 L148.38,400.71 L149.64,397.1 L150.9,393.38 L152.16,389.56 L153.42,385.65 L154.68,381.64 L155.94,377.56 L157.2,373.41 L158.46,369.2 L159.72,364.94 L160.98,360.64 L162.24,356.33 L163.5,352 L164.76,347.68 L166.02,343.38 L167.28,339.12 L168.54,334.91 L169.8,330.77 L171.06,326.71 L172.32,322.75 L173.58,318.91 L174.84,315.2 L176.1,311.64 L177.36,308.24 L178.62,305.03 L179.88,302.01 L181.14,299.19 L182.4,296.6 L183.66,294.24 L184.92,292.13 L186.18,290.27 L187.44,288.68 L188.7,287.36 L189.96,286.32 L191.22,285.56 L192.48,285.08 L193.74,284.9 L195,284.98 L196.26,285.28 L197.52,285.79 L198.78,286.52 L200.04,287.45 L201.3,288.6 L202.56,289.94 L203.82,291.49 L205.08,293.22 L206.34,295.15 L207.6,297.25 L208.86,299.52 L210.12,301.96 L211.38,304.55 L212.64,307.29 L213.9,310.17 L215.16,313.17 L216.42,316.3 L217.68,319.53 L218.94,322.85 L220.2,326.26 L221.46,329.75 L222.72,333.31 L223.98,336.92 L225.24,340.57 L226.5,344.26 L227.76,347.97 L229.02,351.7 L230.28,355.44 L231.54,359.17 L232.8,362.88 L234.06,366.58 L235.32,370.24 L236.58,373.87 L237.84,377.45 L239.1,380.98 L240.36,384.45 L241.62,387.86 L242.88,391.2 L244.14,394.47 L245.4,397.65 L246.66,400.76 L247.92,403.78 L249.18,406.71 L250.44,409.55 L251.7,412.29 L252.96,414.95 L254.22,417.5 L255.48,419.96 L256.74,422.33 L258,424.59 L259.26,426.76 L260.52,428.84 L261.78,430.82 L263.04,432.71 L264.3,434.5 L265.56,436.21 L266.82,437.83 L268.08,439.36 L269.34,440.81 L270.6,442.18 L271.86,443.47 L273.12,444.68 L274.38,445.82 L275.64,446.89 L276.9,447.9 L278.16,448.84 L279.42,449.72 L280.68,450.53 L281.94,451.3 L283.2,452.01 L284.46,452.67 L285.72,453.28 L286.98,453.85 L288.24,454.37 L289.5,454.85 L290.76,455.3 L292.02,455.71 L293.28,456.09 L294.54,456.44 L295.8,456.76 L297.06,457.05 L298.32,457.31 L299.58,457.56 L300.84,457.78 L302.1,457.98 L303.36,458.17 L304.62,458.34 L305.88,458.49 L307.14,458.62 L308.4,458.75 L309.66,458.86 L310.92,458.96 L312.18,459.05 L313.44,459.14 L314.7,459.21 L315.96,459.28 L317.22,459.34 L318.48,459.39 L319.74,459.44 L321,459.48" fill="none" stroke="#111" stroke-width="1.25"/>
<path d="M70.1,459.9 C72.08,459.85 77.85,459.78 82,459.6 C86.15,459.42 90.83,459.73 95,458.8 C99.17,457.87 103,456.4 107,454 C111,451.6 115.4,448.2 119,444.4 C122.6,440.6 126,435 128.6,431.2 C131.2,427.4 132.6,424.3 134.6,421.6 C136.6,418.9 138.4,417 140.6,415 C142.8,413 145.6,411.7 147.8,409.6 C150,407.5 152,405.4 153.8,402.4 C155.6,399.4 157.2,395.4 158.6,391.6 C160,387.8 161.2,383.2 162.2,379.6 C163.2,376 163.38,375.43 164.6,370 C165.82,364.57 167.9,354.5 169.5,347 C171.1,339.5 172.63,331.5 174.2,325 C175.77,318.5 177.32,313.05 178.9,308 C180.48,302.95 181.95,298.65 183.7,294.7 C185.45,290.75 187.67,286.82 189.4,284.3 C191.13,281.78 192.22,280.93 194.1,279.6 C195.98,278.27 198.5,276.3 200.7,276.3 C202.9,276.3 205.75,278.1 207.3,279.6 C208.85,281.1 208.82,282.27 210,285.3 C211.18,288.33 212.97,292.72 214.4,297.8 C215.83,302.88 217.2,310.02 218.6,315.8 C220,321.58 221.42,326.93 222.8,332.5 C224.18,338.07 225.52,343.88 226.9,349.2 C228.28,354.52 229.93,360 231.1,364.4 C232.27,368.8 232.43,371.47 233.9,375.6 C235.37,379.73 237.13,384.73 239.9,389.2 C242.67,393.67 247.4,397.98 250.5,402.4 C253.6,406.82 255.63,409.95 258.5,415.7 C261.37,421.45 264.38,430.72 267.7,436.9 C271.02,443.08 273.97,449.03 278.4,452.8 C282.83,456.57 289.23,458.33 294.3,459.5 C299.37,460.67 306.38,459.75 308.8,459.8" fill="none" stroke="#cf2a35" stroke-width="1.8"/>
<rect x="56.5" y="267.5" width="277" height="201" fill="none" stroke="#3a3a3a" stroke-width="1"/>
<path d="M58.5,468.5v-2.2M58.5,267.5v2.2M75.5,468.5v-4.5M75.5,267.5v4.5M93.5,468.5v-2.2M93.5,267.5v2.2M110.5,468.5v-2.2M110.5,267.5v2.2M128.5,468.5v-2.2M128.5,267.5v2.2M145.5,468.5v-4.5M145.5,267.5v4.5M162.5,468.5v-2.2M162.5,267.5v2.2M180.5,468.5v-2.2M180.5,267.5v2.2M197.5,468.5v-2.2M197.5,267.5v2.2M215.5,468.5v-4.5M215.5,267.5v4.5M232.5,468.5v-2.2M232.5,267.5v2.2M249.5,468.5v-2.2M249.5,267.5v2.2M267.5,468.5v-2.2M267.5,267.5v2.2M284.5,468.5v-4.5M284.5,267.5v4.5M302.5,468.5v-2.2M302.5,267.5v2.2M319.5,468.5v-2.2M319.5,267.5v2.2M56.5,459.5h4.5M333.5,459.5h-4.5M56.5,451.5h2.2M333.5,451.5h-2.2M56.5,442.5h2.2M333.5,442.5h-2.2M56.5,434.5h2.2M333.5,434.5h-2.2M56.5,425.5h2.2M333.5,425.5h-2.2M56.5,417.5h4.5M333.5,417.5h-4.5M56.5,408.5h2.2M333.5,408.5h-2.2M56.5,400.5h2.2M333.5,400.5h-2.2M56.5,391.5h2.2M333.5,391.5h-2.2M56.5,383.5h2.2M333.5,383.5h-2.2M56.5,375.5h4.5M333.5,375.5h-4.5M56.5,366.5h2.2M333.5,366.5h-2.2M56.5,358.5h2.2M333.5,358.5h-2.2M56.5,349.5h2.2M333.5,349.5h-2.2M56.5,341.5h2.2M333.5,341.5h-2.2M56.5,332.5h4.5M333.5,332.5h-4.5M56.5,324.5h2.2M333.5,324.5h-2.2M56.5,315.5h2.2M333.5,315.5h-2.2M56.5,307.5h2.2M333.5,307.5h-2.2M56.5,298.5h2.2M333.5,298.5h-2.2M56.5,290.5h4.5M333.5,290.5h-4.5M56.5,281.5h2.2M333.5,281.5h-2.2M56.5,273.5h2.2M333.5,273.5h-2.2" stroke="#3a3a3a" stroke-width="1" fill="none"/>
<text x="53.6" y="465.96" font-size="12" text-anchor="end" font-weight="normal" font-style="normal" fill="#111" stroke="#111" stroke-width="0.1" font-family="Liberation Serif" letter-spacing="0.15">0.00</text>
<text x="53.6" y="423.56" font-size="12" text-anchor="end" font-weight="normal" font-style="normal" fill="#111" stroke="#111" stroke-width="0.1" font-family="Liberation Serif" letter-spacing="0.15">0.01</text>
<text x="53.6" y="381.16" font-size="12" text-anchor="end" font-weight="normal" font-style="normal" fill="#111" stroke="#111" stroke-width="0.1" font-family="Liberation Serif" letter-spacing="0.15">0.02</text>
<text x="53.6" y="338.76" font-size="12" text-anchor="end" font-weight="normal" font-style="normal" fill="#111" stroke="#111" stroke-width="0.1" font-family="Liberation Serif" letter-spacing="0.15">0.03</text>
<text x="53.6" y="296.36" font-size="12" text-anchor="end" font-weight="normal" font-style="normal" fill="#111" stroke="#111" stroke-width="0.1" font-family="Liberation Serif" letter-spacing="0.15">0.04</text>
<text x="76.5" y="483.86" font-size="12" text-anchor="middle" font-weight="normal" font-style="normal" fill="#111" stroke="#111" stroke-width="0.1" font-family="Liberation Serif" letter-spacing="0.15">60</text>
<text x="146.1" y="483.86" font-size="12" text-anchor="middle" font-weight="normal" font-style="normal" fill="#111" stroke="#111" stroke-width="0.1" font-family="Liberation Serif" letter-spacing="0.15">80</text>
<text x="215.7" y="483.86" font-size="12" text-anchor="middle" font-weight="normal" font-style="normal" fill="#111" stroke="#111" stroke-width="0.1" font-family="Liberation Serif" letter-spacing="0.15">100</text>
<text x="285.3" y="483.86" font-size="12" text-anchor="middle" font-weight="normal" font-style="normal" fill="#111" stroke="#111" stroke-width="0.1" font-family="Liberation Serif" letter-spacing="0.15">120</text>
<text transform="translate(119.52,505.30) scale(1.0376,1)" font-size="18.41" font-family="Liberation Serif" font-weight="normal" font-style="normal" fill="#111" stroke="#111" stroke-width="0.15">Totallost number</text>
<text transform="translate(18.70,410.89) rotate(-90) scale(0.9637,1)" font-size="20.31" font-family="Liberation Serif" font-weight="normal" font-style="normal" fill="#111" stroke="#111" stroke-width="0.15">Frequency</text>
<path d="M228,285 H258.6" stroke="#cf2a35" stroke-width="1.8"/>
<path d="M228,305.4 H258.6" stroke="#111" stroke-width="1.25"/>
<path d="M229.1,325.6 H258" stroke="#222" stroke-width="1.5" stroke-dasharray="8,2.2,1.2,2.4"/>
<text transform="translate(263.63,288.90) scale(1.0684,1)" font-size="17.83" font-family="Liberation Serif" font-weight="normal" font-style="normal" fill="#111" stroke="#111" stroke-width="0.15">Real</text>
<text transform="translate(264.03,313.20) scale(1.0479,1)" font-size="18.15" font-family="Liberation Serif" font-weight="normal" font-style="normal" fill="#111" stroke="#111" stroke-width="0.15">Poisson</text>
<text transform="translate(264.82,337.20) scale(1.0480,1)" font-size="18.46" font-family="Liberation Serif" font-weight="normal" font-style="normal" fill="#111" stroke="#111" stroke-width="0.15">Poisson</text>
<text transform="translate(264.86,360.50) scale(1.0710,1)" font-size="18.03" font-family="Liberation Serif" font-weight="normal" font-style="normal" fill="#111" stroke="#111" stroke-width="0.15">10</text>
<path d="M394.5,464.6 C396.25,464.58 401.83,464.58 405,464.5 C408.17,464.42 411,464.22 413.5,464.1 C416,463.98 417.63,463.95 420,463.8 C422.37,463.65 425,463.7 427.7,463.2 C430.4,462.7 433.67,461.8 436.2,460.8 C438.73,459.8 441.02,458.53 442.9,457.2 C444.78,455.87 445.98,454.77 447.5,452.8 C449.02,450.83 450.45,448.2 452,445.4 C453.55,442.6 454.82,441.1 456.8,436 C458.78,430.9 461.55,422.75 463.9,414.8 C466.25,406.85 468.55,397.43 470.9,388.3 C473.25,379.17 476.4,366.47 478,360 C479.6,353.53 479.67,353.17 480.5,349.5 C481.33,345.83 482.12,342 483,338 C483.88,334 484.53,331.48 485.8,325.5 C487.07,319.52 488.92,307.47 490.6,302.1 C492.28,296.73 493.98,295.22 495.9,293.3 C497.82,291.38 500.03,290.47 502.1,290.6 C504.17,290.73 506.1,291.6 508.3,294.1 C510.5,296.6 512.95,301.03 515.3,305.6 C517.65,310.17 520.03,315.9 522.4,321.5 C524.77,327.1 527.15,333.32 529.5,339.2 C531.85,345.08 534.67,352.57 536.5,356.8 C538.33,361.03 539.17,362.03 540.5,364.6 C541.83,367.17 543.22,369.73 544.5,372.2 C545.78,374.67 546.22,375.73 548.2,379.4 C550.18,383.07 553.67,389.28 556.4,394.2 C559.13,399.12 561.87,403.98 564.6,408.9 C567.33,413.82 570.07,419.05 572.8,423.7 C575.53,428.35 578.27,432.7 581,436.8 C583.73,440.9 586.45,445.15 589.2,448.3 C591.95,451.45 594.92,453.78 597.5,455.7 C600.08,457.62 601.92,458.72 604.7,459.8 C607.48,460.88 610.23,461.57 614.2,462.2 C618.17,462.83 623.75,463.22 628.5,463.6 C633.25,463.98 638.67,464.28 642.7,464.5 C646.73,464.72 651.03,464.83 652.7,464.9 L652.7,464.8 L394.5,464.8 Z" fill="#c0bedf"/>
<path d="M394.4,464.8 L395.45,464.8 L396.51,464.8 L397.56,464.8 L398.62,464.8 L399.67,464.8 L400.73,464.8 L401.78,464.8 L402.84,464.8 L403.89,464.8 L404.94,464.8 L406,464.8 L407.05,464.8 L408.11,464.8 L409.16,464.8 L410.22,464.8 L411.27,464.8 L412.32,464.8 L413.38,464.8 L414.43,464.8 L415.49,464.8 L416.54,464.8 L417.6,464.8 L418.65,464.8 L419.71,464.8 L420.76,464.8 L421.81,464.8 L422.87,464.8 L423.92,464.8 L424.98,464.8 L426.03,464.8 L427.09,464.8 L428.14,464.8 L429.2,464.8 L430.25,464.8 L431.3,464.8 L432.36,464.79 L433.41,464.79 L434.47,464.79 L435.52,464.78 L436.58,464.77 L437.63,464.75 L438.68,464.72 L439.74,464.69 L440.79,464.64 L441.85,464.57 L442.9,464.48 L443.96,464.37 L445.01,464.21 L446.07,464.02 L447.12,463.76 L448.17,463.45 L449.23,463.05 L450.28,462.57 L451.34,461.98 L452.39,461.27 L453.45,460.42 L454.5,459.42 L455.56,458.26 L456.61,456.9 L457.66,455.36 L458.72,453.59 L459.77,451.6 L460.83,449.37 L461.88,446.9 L462.94,444.17 L463.99,441.19 L465.04,437.94 L466.1,434.44 L467.15,430.68 L468.21,426.68 L469.26,422.44 L470.32,417.98 L471.37,413.32 L472.43,408.46 L473.48,403.45 L474.53,398.29 L475.59,393.01 L476.64,387.64 L477.7,382.21 L478.75,376.74 L479.81,371.26 L480.86,365.8 L481.92,360.4 L482.97,355.06 L484.02,349.83 L485.08,344.73 L486.13,339.77 L487.19,334.99 L488.24,330.4 L489.3,326.03 L490.35,321.88 L491.4,317.97 L492.46,314.32 L493.51,310.94 L494.57,307.82 L495.62,304.99 L496.68,302.45 L497.73,300.19 L498.79,298.21 L499.84,296.53 L500.89,295.13 L501.95,294.01 L503,293.16 L504.06,292.58 L505.11,292.27 L506.17,292.21 L507.22,292.36 L508.28,292.73 L509.33,293.28 L510.38,294.03 L511.44,294.95 L512.49,296.04 L513.55,297.28 L514.6,298.68 L515.66,300.22 L516.71,301.89 L517.76,303.68 L518.82,305.59 L519.87,307.6 L520.93,309.7 L521.98,311.89 L523.04,314.16 L524.09,316.49 L525.15,318.89 L526.2,321.35 L527.25,323.85 L528.31,326.39 L529.36,328.97 L530.42,331.57 L531.47,334.19 L532.53,336.83 L533.58,339.48 L534.64,342.14 L535.69,344.8 L536.74,347.45 L537.8,350.09 L538.85,352.73 L539.91,355.34 L540.96,357.94 L542.02,360.52 L543.07,363.07 L544.12,365.6 L545.18,368.1 L546.23,370.56 L547.29,372.99 L548.34,375.39 L549.4,377.75 L550.45,380.07 L551.51,382.36 L552.56,384.6 L553.61,386.8 L554.67,388.96 L555.72,391.08 L556.78,393.16 L557.83,395.2 L558.89,397.19 L559.94,399.14 L561,401.04 L562.05,402.9 L563.1,404.72 L564.16,406.5 L565.21,408.23 L566.27,409.93 L567.32,411.58 L568.38,413.18 L569.43,414.75 L570.48,416.28 L571.54,417.77 L572.59,419.21 L573.65,420.62 L574.7,422 L575.76,423.33 L576.81,424.63 L577.87,425.89 L578.92,427.11 L579.97,428.31 L581.03,429.46 L582.08,430.59 L583.14,431.68 L584.19,432.74 L585.25,433.77 L586.3,434.76 L587.36,435.73 L588.41,436.67 L589.46,437.58 L590.52,438.47 L591.57,439.32 L592.63,440.16 L593.68,440.96 L594.74,441.74 L595.79,442.5 L596.84,443.23 L597.9,443.94 L598.95,444.63 L600.01,445.3 L601.06,445.94 L602.12,446.57 L603.17,447.17 L604.23,447.76 L605.28,448.32 L606.33,448.87 L607.39,449.4 L608.44,449.92 L609.5,450.42 L610.55,450.9 L611.61,451.36 L612.66,451.81 L613.72,452.25 L614.77,452.67 L615.82,453.08 L616.88,453.48 L617.93,453.86 L618.99,454.23 L620.04,454.58 L621.1,454.93 L622.15,455.26 L623.2,455.59 L624.26,455.9 L625.31,456.2 L626.37,456.49 L627.42,456.77 L628.48,457.05 L629.53,457.31 L630.59,457.56 L631.64,457.81 L632.69,458.05 L633.75,458.28 L634.8,458.5 L635.86,458.71 L636.91,458.92 L637.97,459.12 L639.02,459.32 L640.08,459.5 L641.13,459.68 L642.18,459.86 L643.24,460.03 L644.29,460.19 L645.35,460.35 L646.4,460.5 L647.46,460.65 L648.51,460.79 L649.56,460.93 L650.62,461.06 L651.67,461.19 L652.73,461.31 L653.78,461.43 L654.84,461.55 L655.89,461.66 L656.95,461.77 L658,461.87" fill="none" stroke="#222" stroke-width="1.2" stroke-dasharray="5,1.8,1.2,1.8"/>
<path d="M394.4,464.8 L395.45,464.8 L396.51,464.8 L397.56,464.8 L398.62,464.8 L399.67,464.8 L400.73,464.8 L401.78,464.8 L402.84,464.8 L403.89,464.8 L404.94,464.8 L406,464.8 L407.05,464.8 L408.11,464.8 L409.16,464.8 L410.22,464.8 L411.27,464.8 L412.32,464.8 L413.38,464.8 L414.43,464.8 L415.49,464.8 L416.54,464.8 L417.6,464.8 L418.65,464.8 L419.71,464.8 L420.76,464.8 L421.81,464.8 L422.87,464.8 L423.92,464.8 L424.98,464.8 L426.03,464.8 L427.09,464.8 L428.14,464.79 L429.2,464.79 L430.25,464.78 L431.3,464.78 L432.36,464.76 L433.41,464.74 L434.47,464.72 L435.52,464.68 L436.58,464.62 L437.63,464.55 L438.68,464.45 L439.74,464.32 L440.79,464.15 L441.85,463.93 L442.9,463.65 L443.96,463.3 L445.01,462.86 L446.07,462.32 L447.12,461.66 L448.17,460.87 L449.23,459.93 L450.28,458.81 L451.34,457.51 L452.39,456 L453.45,454.27 L454.5,452.29 L455.56,450.07 L456.61,447.57 L457.66,444.8 L458.72,441.74 L459.77,438.4 L460.83,434.76 L461.88,430.84 L462.94,426.63 L463.99,422.14 L465.04,417.39 L466.1,412.4 L467.15,407.17 L468.21,401.74 L469.26,396.12 L470.32,390.35 L471.37,384.44 L472.43,378.43 L473.48,372.36 L474.53,366.24 L475.59,360.12 L476.64,354.03 L477.7,347.99 L478.75,342.04 L479.81,336.21 L480.86,330.52 L481.92,325 L482.97,319.68 L484.02,314.58 L485.08,309.71 L486.13,305.11 L487.19,300.78 L488.24,296.73 L489.3,292.99 L490.35,289.55 L491.4,286.43 L492.46,283.63 L493.51,281.15 L494.57,279 L495.62,277.16 L496.68,275.64 L497.73,274.44 L498.79,273.54 L499.84,272.95 L500.89,272.65 L501.95,272.63 L503,272.92 L504.06,273.51 L505.11,274.38 L506.17,275.53 L507.22,276.93 L508.28,278.57 L509.33,280.43 L510.38,282.49 L511.44,284.75 L512.49,287.17 L513.55,289.76 L514.6,292.49 L515.66,295.34 L516.71,298.31 L517.76,301.38 L518.82,304.53 L519.87,307.76 L520.93,311.05 L521.98,314.38 L523.04,317.76 L524.09,321.16 L525.15,324.58 L526.2,328.02 L527.25,331.45 L528.31,334.87 L529.36,338.29 L530.42,341.68 L531.47,345.05 L532.53,348.38 L533.58,351.68 L534.64,354.94 L535.69,358.16 L536.74,361.32 L537.8,364.44 L538.85,367.5 L539.91,370.5 L540.96,373.45 L542.02,376.34 L543.07,379.16 L544.12,381.92 L545.18,384.62 L546.23,387.26 L547.29,389.83 L548.34,392.33 L549.4,394.77 L550.45,397.15 L551.51,399.46 L552.56,401.71 L553.61,403.89 L554.67,406.02 L555.72,408.08 L556.78,410.08 L557.83,412.02 L558.89,413.9 L559.94,415.72 L561,417.48 L562.05,419.19 L563.1,420.85 L564.16,422.45 L565.21,424 L566.27,425.49 L567.32,426.94 L568.38,428.34 L569.43,429.69 L570.48,431 L571.54,432.26 L572.59,433.48 L573.65,434.65 L574.7,435.78 L575.76,436.88 L576.81,437.93 L577.87,438.95 L578.92,439.93 L579.97,440.88 L581.03,441.79 L582.08,442.67 L583.14,443.52 L584.19,444.33 L585.25,445.12 L586.3,445.88 L587.36,446.61 L588.41,447.31 L589.46,447.98 L590.52,448.63 L591.57,449.26 L592.63,449.86 L593.68,450.44 L594.74,451 L595.79,451.54 L596.84,452.06 L597.9,452.55 L598.95,453.03 L600.01,453.49 L601.06,453.93 L602.12,454.36 L603.17,454.77 L604.23,455.16 L605.28,455.54 L606.33,455.9 L607.39,456.25 L608.44,456.59 L609.5,456.91 L610.55,457.22 L611.61,457.52 L612.66,457.81 L613.72,458.08 L614.77,458.35 L615.82,458.6 L616.88,458.85 L617.93,459.08 L618.99,459.31 L620.04,459.53 L621.1,459.74 L622.15,459.94 L623.2,460.13 L624.26,460.31 L625.31,460.49 L626.37,460.66 L627.42,460.83 L628.48,460.98 L629.53,461.14 L630.59,461.28 L631.64,461.42 L632.69,461.56 L633.75,461.68 L634.8,461.81 L635.86,461.93 L636.91,462.04 L637.97,462.15 L639.02,462.26 L640.08,462.36 L641.13,462.45 L642.18,462.55 L643.24,462.64 L644.29,462.72 L645.35,462.81 L646.4,462.89 L647.46,462.96 L648.51,463.04 L649.56,463.11 L650.62,463.17 L651.67,463.24 L652.73,463.3 L653.78,463.36 L654.84,463.42 L655.89,463.47 L656.95,463.53 L658,463.58" fill="none" stroke="#111" stroke-width="1.25"/>
<path d="M394.5,464.6 C396.25,464.58 401.83,464.58 405,464.5 C408.17,464.42 411,464.22 413.5,464.1 C416,463.98 417.63,463.95 420,463.8 C422.37,463.65 425,463.7 427.7,463.2 C430.4,462.7 433.67,461.8 436.2,460.8 C438.73,459.8 441.02,458.53 442.9,457.2 C444.78,455.87 445.98,454.77 447.5,452.8 C449.02,450.83 450.45,448.2 452,445.4 C453.55,442.6 454.82,441.1 456.8,436 C458.78,430.9 461.55,422.75 463.9,414.8 C466.25,406.85 468.55,397.43 470.9,388.3 C473.25,379.17 476.4,366.47 478,360 C479.6,353.53 479.67,353.17 480.5,349.5 C481.33,345.83 482.12,342 483,338 C483.88,334 484.53,331.48 485.8,325.5 C487.07,319.52 488.92,307.47 490.6,302.1 C492.28,296.73 493.98,295.22 495.9,293.3 C497.82,291.38 500.03,290.47 502.1,290.6 C504.17,290.73 506.1,291.6 508.3,294.1 C510.5,296.6 512.95,301.03 515.3,305.6 C517.65,310.17 520.03,315.9 522.4,321.5 C524.77,327.1 527.15,333.32 529.5,339.2 C531.85,345.08 534.67,352.57 536.5,356.8 C538.33,361.03 539.17,362.03 540.5,364.6 C541.83,367.17 543.22,369.73 544.5,372.2 C545.78,374.67 546.22,375.73 548.2,379.4 C550.18,383.07 553.67,389.28 556.4,394.2 C559.13,399.12 561.87,403.98 564.6,408.9 C567.33,413.82 570.07,419.05 572.8,423.7 C575.53,428.35 578.27,432.7 581,436.8 C583.73,440.9 586.45,445.15 589.2,448.3 C591.95,451.45 594.92,453.78 597.5,455.7 C600.08,457.62 601.92,458.72 604.7,459.8 C607.48,460.88 610.23,461.57 614.2,462.2 C618.17,462.83 623.75,463.22 628.5,463.6 C633.25,463.98 638.67,464.28 642.7,464.5 C646.73,464.72 651.03,464.83 652.7,464.9" fill="none" stroke="#3f4ea8" stroke-width="1.9"/>
<rect x="381.5" y="263.5" width="289" height="211" fill="none" stroke="#3a3a3a" stroke-width="1"/>
<path d="M393.5,474.5v-2.2M393.5,263.5v2.2M406.5,474.5v-4.5M406.5,263.5v4.5M419.5,474.5v-2.2M419.5,263.5v2.2M432.5,474.5v-2.2M432.5,263.5v2.2M446.5,474.5v-2.2M446.5,263.5v2.2M459.5,474.5v-2.2M459.5,263.5v2.2M472.5,474.5v-4.5M472.5,263.5v4.5M485.5,474.5v-2.2M485.5,263.5v2.2M498.5,474.5v-2.2M498.5,263.5v2.2M511.5,474.5v-2.2M511.5,263.5v2.2M525.5,474.5v-2.2M525.5,263.5v2.2M538.5,474.5v-4.5M538.5,263.5v4.5M551.5,474.5v-2.2M551.5,263.5v2.2M564.5,474.5v-2.2M564.5,263.5v2.2M577.5,474.5v-2.2M577.5,263.5v2.2M591.5,474.5v-2.2M591.5,263.5v2.2M604.5,474.5v-4.5M604.5,263.5v4.5M617.5,474.5v-2.2M617.5,263.5v2.2M630.5,474.5v-2.2M630.5,263.5v2.2M643.5,474.5v-2.2M643.5,263.5v2.2M656.5,474.5v-2.2M656.5,263.5v2.2M381.5,465.5h4.5M670.5,465.5h-4.5M381.5,454.5h2.2M670.5,454.5h-2.2M381.5,444.5h2.2M670.5,444.5h-2.2M381.5,433.5h2.2M670.5,433.5h-2.2M381.5,423.5h2.2M670.5,423.5h-2.2M381.5,412.5h4.5M670.5,412.5h-4.5M381.5,402.5h2.2M670.5,402.5h-2.2M381.5,391.5h2.2M670.5,391.5h-2.2M381.5,381.5h2.2M670.5,381.5h-2.2M381.5,370.5h2.2M670.5,370.5h-2.2M381.5,360.5h4.5M670.5,360.5h-4.5M381.5,349.5h2.2M670.5,349.5h-2.2M381.5,339.5h2.2M670.5,339.5h-2.2M381.5,328.5h2.2M670.5,328.5h-2.2M381.5,318.5h2.2M670.5,318.5h-2.2M381.5,307.5h4.5M670.5,307.5h-4.5M381.5,297.5h2.2M670.5,297.5h-2.2M381.5,286.5h2.2M670.5,286.5h-2.2M381.5,276.5h2.2M670.5,276.5h-2.2M381.5,265.5h2.2M670.5,265.5h-2.2" stroke="#3a3a3a" stroke-width="1" fill="none"/>
<text x="377.5" y="470.16" font-size="12" text-anchor="end" font-weight="normal" font-style="normal" fill="#111" stroke="#111" stroke-width="0.1" font-family="Liberation Serif" letter-spacing="0.15">0.000</text>
<text x="377.5" y="417.66" font-size="12" text-anchor="end" font-weight="normal" font-style="normal" fill="#111" stroke="#111" stroke-width="0.1" font-family="Liberation Serif" letter-spacing="0.15">0.005</text>
<text x="377.5" y="365.16" font-size="12" text-anchor="end" font-weight="normal" font-style="normal" fill="#111" stroke="#111" stroke-width="0.1" font-family="Liberation Serif" letter-spacing="0.15">0.010</text>
<text x="377.5" y="312.66" font-size="12" text-anchor="end" font-weight="normal" font-style="normal" fill="#111" stroke="#111" stroke-width="0.1" font-family="Liberation Serif" letter-spacing="0.15">0.015</text>
<text x="407" y="489.76" font-size="12" text-anchor="middle" font-weight="normal" font-style="normal" fill="#111" stroke="#111" stroke-width="0.1" font-family="Liberation Serif" letter-spacing="0.15">2000</text>
<text x="472.9" y="489.76" font-size="12" text-anchor="middle" font-weight="normal" font-style="normal" fill="#111" stroke="#111" stroke-width="0.1" font-family="Liberation Serif" letter-spacing="0.15">2050</text>
<text x="538.8" y="489.76" font-size="12" text-anchor="middle" font-weight="normal" font-style="normal" fill="#111" stroke="#111" stroke-width="0.1" font-family="Liberation Serif" letter-spacing="0.15">2100</text>
<text x="604.7" y="489.76" font-size="12" text-anchor="middle" font-weight="normal" font-style="normal" fill="#111" stroke="#111" stroke-width="0.1" font-family="Liberation Serif" letter-spacing="0.15">2150</text>
<text x="670.6" y="489.76" font-size="12" text-anchor="middle" font-weight="normal" font-style="normal" fill="#111" stroke="#111" stroke-width="0.1" font-family="Liberation Serif" letter-spacing="0.15">2200</text>
<text transform="translate(410.43,508.00) scale(1.0684,1)" font-size="17.89" font-family="Liberation Serif" font-weight="normal" font-style="normal" fill="#111" stroke="#111" stroke-width="0.15">Droplets number for decoding</text>
<path d="M551,281.6 H582.4" stroke="#3f4ea8" stroke-width="1.9"/>
<path d="M551,303.4 H582.4" stroke="#111" stroke-width="1.25"/>
<path d="M551.9,325 H582" stroke="#333" stroke-width="1.5" stroke-dasharray="8,2.2,1.2,2.4"/>
<text transform="translate(592.02,291.00) scale(1.0190,1)" font-size="19.13" font-family="Liberation Serif" font-weight="normal" font-style="normal" fill="#111" stroke="#111" stroke-width="0.15">Real</text>
<text transform="translate(592.03,313.40) scale(1.0440,1)" font-size="18.55" font-family="Liberation Serif" font-weight="normal" font-style="normal" fill="#111" stroke="#111" stroke-width="0.15">Gumbel</text>
<text transform="translate(592.03,336.30) scale(1.0308,1)" font-size="18.70" font-family="Liberation Serif" font-weight="normal" font-style="normal" fill="#111" stroke="#111" stroke-width="0.15">Gumbel</text>
<text transform="translate(591.60,359.90) scale(1.0560,1)" font-size="18.94" font-family="Liberation Serif" font-weight="normal" font-style="normal" fill="#111" stroke="#111" stroke-width="0.15">10</text>
<text transform="translate(-0.06,529.00) scale(0.9337,1)" font-size="23.62" font-family="Liberation Serif" font-weight="bold" font-style="normal" fill="#000" stroke="#000" stroke-width="0.15">c</text>
<defs><clipPath id="cR"><path d="M140,743.26 L140.58,743.25 L141.16,743.23 L141.74,743.21 L142.32,743.19 L142.9,743.16 L143.48,743.13 L144.06,743.09 L144.64,743.03 L145.22,742.97 L145.8,742.89 L146.38,742.8 L146.96,742.68 L147.54,742.54 L148.12,742.38 L148.7,742.18 L149.28,741.94 L149.86,741.66 L150.44,741.34 L151.02,740.95 L151.6,740.5 L152.18,739.97 L152.76,739.35 L153.34,738.65 L153.92,737.83 L154.5,736.89 L155.08,735.83 L155.66,734.61 L156.24,733.23 L156.82,731.68 L157.4,729.94 L157.98,728 L158.56,725.83 L159.14,723.43 L159.72,720.79 L160.3,717.88 L160.88,714.7 L161.46,711.25 L162.04,707.5 L162.62,703.47 L163.2,699.14 L163.78,694.52 L164.36,689.62 L164.94,684.43 L165.52,678.98 L166.1,673.28 L166.68,667.36 L167.26,661.23 L167.84,654.93 L168.42,648.49 L169,641.96 L169.58,635.37 L170.16,628.77 L170.74,622.21 L171.32,615.74 L171.9,609.42 L172.48,603.29 L173.06,597.42 L173.64,591.85 L174.22,586.64 L174.8,581.85 L175.38,577.51 L175.96,573.68 L176.54,570.4 L177.12,567.69 L177.7,565.59 L178.28,564.11 L178.86,563.29 L179.44,563.12 L180.02,563.52 L180.6,564.48 L181.18,565.97 L181.76,567.98 L182.34,570.5 L182.92,573.5 L183.5,576.95 L184.08,580.84 L184.66,585.11 L185.24,589.75 L185.82,594.7 L186.4,599.93 L186.98,605.39 L187.56,611.06 L188.14,616.87 L188.72,622.8 L189.3,628.8 L189.88,634.84 L190.46,640.86 L191.04,646.85 L191.62,652.77 L192.2,658.58 L192.78,664.26 L193.36,669.78 L193.94,675.13 L194.52,680.28 L195.1,685.21 L195.68,689.93 L196.26,694.41 L196.84,698.65 L197.42,702.65 L198,706.4 L198.58,709.91 L199.16,713.18 L199.74,716.21 L200.32,719.01 L200.9,721.58 L201.48,723.94 L202.06,726.1 L202.64,728.07 L203.22,729.85 L203.8,731.46 L204.38,732.9 L204.96,734.2 L205.54,735.36 L206.12,736.4 L206.7,737.31 L207.28,738.13 L207.86,738.84 L208.44,739.47 L209.02,740.02 L209.6,740.5 L210.18,740.91 L210.76,741.28 L211.34,741.59 L211.92,741.85 L212.5,742.08 L213.08,742.28 L213.66,742.45 L214.24,742.59 L214.82,742.71 L215.4,742.81 L215.98,742.9 L216.56,742.97 L217.14,743.03 L217.72,743.08 L218.3,743.12 L218.88,743.15 L219.46,743.18 L220.04,743.2 L220.62,743.22 L221.2,743.24 L221.78,743.25 L222.36,743.26 L222.94,743.27 L223.52,743.27 L224.1,743.28 L224.68,743.28 L225.26,743.29 L225.84,743.29 L226.42,743.29 L227,743.29 L227.58,743.3 L228.16,743.3 L228.74,743.3 L229.32,743.3 L229.9,743.3 L230.48,743.3 L231.06,743.3 L231.64,743.3 L232.22,743.3 L232.8,743.3 L233.38,743.3 L233.96,743.3 L234.54,743.3 L235.12,743.3 L235.7,743.3 L236.28,743.3 L236.86,743.3 L237.44,743.3 L238.02,743.3 L238.6,743.3 L239.18,743.3 L239.76,743.3 L240.34,743.3 L240.92,743.3 L241.5,743.3 L242.08,743.3 L242.66,743.3 L243.24,743.3 L243.82,743.3 L244.4,743.3 L244.98,743.3 L245.56,743.3 L246.14,743.3 L246.72,743.3 L247.3,743.3 L247.88,743.3 L248.46,743.3 L249.04,743.3 L249.62,743.3 L250.2,743.3 L250.78,743.3 L251.36,743.3 L251.94,743.3 L252.52,743.3 L253.1,743.3 L253.68,743.3 L254.26,743.3 L254.84,743.3 L255.42,743.3 L256,743.3 L256.58,743.3 L257.16,743.3 L257.74,743.3 L258.32,743.3 L258.9,743.3 L259.48,743.3 L260.06,743.3 L260.64,743.3 L261.22,743.3 L261.8,743.3 L262.38,743.3 L262.96,743.3 L263.54,743.3 L264.12,743.3 L264.7,743.3 L265.28,743.3 L265.86,743.3 L266.44,743.3 L267.02,743.3 L267.6,743.3 L268.18,743.3 L268.76,743.3 L269.34,743.3 L269.92,743.3 L270.5,743.3 L271.08,743.3 L271.66,743.3 L272.24,743.3 L272.82,743.3 L273.4,743.3 L273.98,743.3 L274.56,743.3 L275.14,743.3 L275.72,743.3 L276.3,743.3 L276.88,743.3 L277.46,743.3 L278.04,743.3 L278.62,743.3 L279.2,743.3 L279.78,743.3 L280.36,743.3 L280.94,743.3 L281.52,743.3 L282.1,743.3 L282.68,743.3 L283.26,743.3 L283.84,743.3 L284.42,743.3 L285,743.3 L285.58,743.3 L286.16,743.3 L286.74,743.3 L287.32,743.3 L287.9,743.3 L288.48,743.3 L289.06,743.3 L289.64,743.3 L290.22,743.3 L290.8,743.3 L291.38,743.3 L291.96,743.3 L292.54,743.3 L293.12,743.3 L293.7,743.3 L294.28,743.3 L294.86,743.3 L295.44,743.3 L296.02,743.3 L296.6,743.3 L297.18,743.3 L297.76,743.3 L298.34,743.3 L298.92,743.3 L299.5,743.3 L300.08,743.3 L300.66,743.3 L301.24,743.3 L301.82,743.3 L302.4,743.3 L302.98,743.3 L303.56,743.3 L304.14,743.3 L304.72,743.3 L305.3,743.3 L305.88,743.3 L306.46,743.3 L307.04,743.3 L307.62,743.3 L308.2,743.3 L308.78,743.3 L309.36,743.3 L309.94,743.3 L310.52,743.3 L311.1,743.3 L311.68,743.3 L312.26,743.3 L312.84,743.3 L313.42,743.3 L314,743.3 L314,743.3 L140,743.3 Z"/></clipPath><clipPath id="c1"><path d="M67.6,743.26 L68.21,743.26 L68.82,743.25 L69.43,743.25 L70.04,743.25 L70.64,743.25 L71.25,743.25 L71.86,743.24 L72.47,743.24 L73.08,743.24 L73.69,743.24 L74.3,743.24 L74.91,743.23 L75.52,743.23 L76.13,743.23 L76.73,743.22 L77.34,743.22 L77.95,743.22 L78.56,743.22 L79.17,743.21 L79.78,743.21 L80.39,743.21 L81,743.2 L81.61,743.2 L82.22,743.2 L82.82,743.19 L83.43,743.19 L84.04,743.18 L84.65,743.18 L85.26,743.17 L85.87,743.17 L86.48,743.16 L87.09,743.16 L87.7,743.15 L88.31,743.15 L88.91,743.14 L89.52,743.14 L90.13,743.13 L90.74,743.12 L91.35,743.12 L91.96,743.11 L92.57,743.1 L93.18,743.1 L93.79,743.09 L94.4,743.08 L95,743.07 L95.61,743.06 L96.22,743.06 L96.83,743.05 L97.44,743.04 L98.05,743.03 L98.66,743.02 L99.27,743.01 L99.88,743 L100.49,742.98 L101.09,742.97 L101.7,742.96 L102.31,742.95 L102.92,742.93 L103.53,742.92 L104.14,742.91 L104.75,742.89 L105.36,742.88 L105.97,742.86 L106.58,742.84 L107.19,742.83 L107.79,742.81 L108.4,742.79 L109.01,742.77 L109.62,742.75 L110.23,742.73 L110.84,742.71 L111.45,742.69 L112.06,742.66 L112.67,742.64 L113.28,742.61 L113.88,742.59 L114.49,742.56 L115.1,742.53 L115.71,742.51 L116.32,742.48 L116.93,742.45 L117.54,742.41 L118.15,742.38 L118.76,742.35 L119.37,742.31 L119.97,742.27 L120.58,742.23 L121.19,742.19 L121.8,742.15 L122.41,742.11 L123.02,742.07 L123.63,742.02 L124.24,741.97 L124.85,741.92 L125.45,741.87 L126.06,741.82 L126.67,741.76 L127.28,741.7 L127.89,741.64 L128.5,741.58 L129.11,741.52 L129.72,741.45 L130.33,741.38 L130.94,741.31 L131.54,741.24 L132.15,741.16 L132.76,741.08 L133.37,741 L133.98,740.91 L134.59,740.82 L135.2,740.73 L135.81,740.63 L136.42,740.54 L137.03,740.43 L137.63,740.33 L138.24,740.22 L138.85,740.1 L139.46,739.98 L140.07,739.86 L140.68,739.73 L141.29,739.6 L141.9,739.46 L142.51,739.32 L143.12,739.17 L143.73,739.02 L144.33,738.86 L144.94,738.7 L145.55,738.53 L146.16,738.35 L146.77,738.17 L147.38,737.98 L147.99,737.79 L148.6,737.58 L149.21,737.37 L149.81,737.16 L150.42,736.93 L151.03,736.7 L151.64,736.46 L152.25,736.21 L152.86,735.95 L153.47,735.68 L154.08,735.4 L154.69,735.12 L155.3,734.82 L155.91,734.51 L156.51,734.19 L157.12,733.86 L157.73,733.52 L158.34,733.17 L158.95,732.81 L159.56,732.43 L160.17,732.04 L160.78,731.63 L161.39,731.22 L162,730.79 L162.6,730.34 L163.21,729.88 L163.82,729.4 L164.43,728.91 L165.04,728.4 L165.65,727.88 L166.26,727.34 L166.87,726.78 L167.48,726.2 L168.09,725.61 L168.69,724.99 L169.3,724.36 L169.91,723.71 L170.52,723.03 L171.13,722.34 L171.74,721.62 L172.35,720.88 L172.96,720.12 L173.57,719.34 L174.18,718.54 L174.78,717.71 L175.39,716.86 L176,715.98 L176.61,715.08 L177.22,714.16 L177.83,713.21 L178.44,712.23 L179.05,711.23 L179.66,710.2 L180.26,709.15 L180.87,708.07 L181.48,706.97 L182.09,705.83 L182.7,704.68 L183.31,703.49 L183.92,702.28 L184.53,701.05 L185.14,699.79 L185.75,698.5 L186.35,697.19 L186.96,695.86 L187.57,694.5 L188.18,693.12 L188.79,691.72 L189.4,690.3 L190.01,688.86 L190.62,687.4 L191.23,685.93 L191.84,684.44 L192.44,682.93 L193.05,681.42 L193.66,679.9 L194.27,678.37 L194.88,676.83 L195.49,675.3 L196.1,673.76 L196.71,672.23 L197.32,670.71 L197.93,669.2 L198.54,667.7 L199.14,666.23 L199.75,664.77 L200.36,663.35 L200.97,661.95 L201.58,660.59 L202.19,659.28 L202.8,658.01 L203.41,656.79 L204.02,655.63 L204.63,654.53 L205.23,653.5 L205.84,652.55 L206.45,651.68 L207.06,650.89 L207.67,650.2 L208.28,649.6 L208.89,649.11 L209.5,648.73 L210.11,648.47 L210.72,648.33 L211.32,648.31 L211.93,648.42 L212.54,648.67 L213.15,649.06 L213.76,649.59 L214.37,650.27 L214.98,651.1 L215.59,652.08 L216.2,653.2 L216.81,654.48 L217.41,655.91 L218.02,657.49 L218.63,659.21 L219.24,661.08 L219.85,663.08 L220.46,665.22 L221.07,667.48 L221.68,669.86 L222.29,672.35 L222.9,674.94 L223.5,677.61 L224.11,680.37 L224.72,683.19 L225.33,686.06 L225.94,688.97 L226.55,691.9 L227.16,694.84 L227.77,697.78 L228.38,700.71 L228.99,703.59 L229.59,706.43 L230.2,709.22 L230.81,711.92 L231.42,714.54 L232.03,717.07 L232.64,719.49 L233.25,721.79 L233.86,723.98 L234.47,726.03 L235.08,727.95 L235.68,729.74 L236.29,731.39 L236.9,732.91 L237.51,734.29 L238.12,735.54 L238.73,736.67 L239.34,737.67 L239.95,738.55 L240.56,739.33 L241.17,740.01 L241.77,740.59 L242.38,741.09 L242.99,741.52 L243.6,741.87 L244.21,742.17 L244.82,742.41 L245.43,742.61 L246.04,742.77 L246.65,742.9 L247.26,743 L247.86,743.08 L248.47,743.14 L249.08,743.18 L249.69,743.22 L250.3,743.24 L250.3,743.3 L67.6,743.3 Z"/></clipPath><clipPath id="c2"><path d="M127,743.27 L127.63,743.26 L128.25,743.26 L128.88,743.26 L129.5,743.26 L130.13,743.26 L130.76,743.26 L131.38,743.25 L132.01,743.25 L132.63,743.25 L133.26,743.25 L133.89,743.25 L134.51,743.24 L135.14,743.24 L135.76,743.24 L136.39,743.24 L137.02,743.24 L137.64,743.23 L138.27,743.23 L138.89,743.23 L139.52,743.23 L140.15,743.22 L140.77,743.22 L141.4,743.22 L142.02,743.21 L142.65,743.21 L143.28,743.21 L143.9,743.2 L144.53,743.2 L145.15,743.2 L145.78,743.19 L146.41,743.19 L147.03,743.18 L147.66,743.18 L148.28,743.17 L148.91,743.17 L149.54,743.16 L150.16,743.16 L150.79,743.15 L151.41,743.15 L152.04,743.14 L152.67,743.13 L153.29,743.13 L153.92,743.12 L154.54,743.11 L155.17,743.11 L155.8,743.1 L156.42,743.09 L157.05,743.08 L157.67,743.08 L158.3,743.07 L158.93,743.06 L159.55,743.05 L160.18,743.04 L160.8,743.03 L161.43,743.02 L162.06,743.01 L162.68,743 L163.31,742.99 L163.93,742.97 L164.56,742.96 L165.19,742.95 L165.81,742.93 L166.44,742.92 L167.06,742.9 L167.69,742.89 L168.32,742.87 L168.94,742.86 L169.57,742.84 L170.19,742.82 L170.82,742.8 L171.45,742.78 L172.07,742.77 L172.7,742.74 L173.32,742.72 L173.95,742.7 L174.58,742.68 L175.2,742.65 L175.83,742.63 L176.45,742.6 L177.08,742.58 L177.71,742.55 L178.33,742.52 L178.96,742.49 L179.58,742.46 L180.21,742.43 L180.84,742.39 L181.46,742.36 L182.09,742.32 L182.71,742.28 L183.34,742.24 L183.97,742.2 L184.59,742.16 L185.22,742.12 L185.84,742.07 L186.47,742.02 L187.1,741.97 L187.72,741.92 L188.35,741.87 L188.97,741.82 L189.6,741.76 L190.23,741.7 L190.85,741.64 L191.48,741.57 L192.1,741.51 L192.73,741.44 L193.36,741.37 L193.98,741.29 L194.61,741.22 L195.23,741.14 L195.86,741.05 L196.49,740.97 L197.11,740.88 L197.74,740.79 L198.36,740.69 L198.99,740.59 L199.62,740.49 L200.24,740.38 L200.87,740.27 L201.49,740.15 L202.12,740.03 L202.75,739.91 L203.37,739.78 L204,739.64 L204.62,739.5 L205.25,739.36 L205.88,739.21 L206.5,739.05 L207.13,738.89 L207.75,738.72 L208.38,738.55 L209.01,738.37 L209.63,738.18 L210.26,737.99 L210.88,737.79 L211.51,737.58 L212.14,737.36 L212.76,737.14 L213.39,736.91 L214.01,736.67 L214.64,736.42 L215.27,736.16 L215.89,735.89 L216.52,735.61 L217.14,735.33 L217.77,735.03 L218.4,734.72 L219.02,734.4 L219.65,734.07 L220.27,733.72 L220.9,733.37 L221.53,733 L222.15,732.62 L222.78,732.23 L223.4,731.82 L224.03,731.39 L224.66,730.96 L225.28,730.5 L225.91,730.04 L226.53,729.55 L227.16,729.05 L227.79,728.53 L228.41,728 L229.04,727.45 L229.66,726.88 L230.29,726.29 L230.92,725.68 L231.54,725.05 L232.17,724.4 L232.79,723.73 L233.42,723.03 L234.05,722.32 L234.67,721.58 L235.3,720.82 L235.92,720.04 L236.55,719.23 L237.18,718.4 L237.8,717.55 L238.43,716.67 L239.05,715.76 L239.68,714.83 L240.31,713.87 L240.93,712.88 L241.56,711.87 L242.18,710.83 L242.81,709.77 L243.44,708.67 L244.06,707.55 L244.69,706.4 L245.31,705.23 L245.94,704.02 L246.57,702.79 L247.19,701.53 L247.82,700.24 L248.44,698.93 L249.07,697.59 L249.7,696.23 L250.32,694.84 L250.95,693.43 L251.57,691.99 L252.2,690.53 L252.83,689.06 L253.45,687.56 L254.08,686.05 L254.7,684.52 L255.33,682.97 L255.96,681.41 L256.58,679.85 L257.21,678.28 L257.83,676.7 L258.46,675.12 L259.09,673.54 L259.71,671.97 L260.34,670.41 L260.96,668.86 L261.59,667.33 L262.22,665.81 L262.84,664.33 L263.47,662.87 L264.09,661.45 L264.72,660.07 L265.35,658.73 L265.97,657.45 L266.6,656.23 L267.22,655.07 L267.85,653.97 L268.48,652.96 L269.1,652.03 L269.73,651.18 L270.35,650.43 L270.98,649.79 L271.61,649.25 L272.23,648.82 L272.86,648.52 L273.48,648.35 L274.11,648.3 L274.74,648.4 L275.36,648.63 L275.99,649.02 L276.61,649.55 L277.24,650.24 L277.87,651.08 L278.49,652.09 L279.12,653.25 L279.74,654.57 L280.37,656.05 L281,657.69 L281.62,659.48 L282.25,661.42 L282.87,663.51 L283.5,665.73 L284.13,668.09 L284.75,670.56 L285.38,673.15 L286,675.84 L286.63,678.63 L287.26,681.48 L287.88,684.41 L288.51,687.38 L289.13,690.38 L289.76,693.4 L290.39,696.43 L291.01,699.44 L291.64,702.43 L292.26,705.37 L292.89,708.25 L293.52,711.06 L294.14,713.78 L294.77,716.41 L295.39,718.92 L296.02,721.32 L296.65,723.59 L297.27,725.72 L297.9,727.72 L298.52,729.57 L299.15,731.28 L299.78,732.85 L300.4,734.27 L301.03,735.56 L301.65,736.71 L302.28,737.73 L302.91,738.63 L303.53,739.42 L304.16,740.1 L304.78,740.69 L305.41,741.19 L306.04,741.61 L306.66,741.96 L307.29,742.25 L307.91,742.48 L308.54,742.67 L309.17,742.82 L309.79,742.94 L310.42,743.04 L311.04,743.11 L311.67,743.16 L312.3,743.2 L312.92,743.23 L313.55,743.25 L314.17,743.27 L314.8,743.28 L314.8,743.3 L127,743.3 Z"/></clipPath></defs>
<path d="M140,743.26 L140.58,743.25 L141.16,743.23 L141.74,743.21 L142.32,743.19 L142.9,743.16 L143.48,743.13 L144.06,743.09 L144.64,743.03 L145.22,742.97 L145.8,742.89 L146.38,742.8 L146.96,742.68 L147.54,742.54 L148.12,742.38 L148.7,742.18 L149.28,741.94 L149.86,741.66 L150.44,741.34 L151.02,740.95 L151.6,740.5 L152.18,739.97 L152.76,739.35 L153.34,738.65 L153.92,737.83 L154.5,736.89 L155.08,735.83 L155.66,734.61 L156.24,733.23 L156.82,731.68 L157.4,729.94 L157.98,728 L158.56,725.83 L159.14,723.43 L159.72,720.79 L160.3,717.88 L160.88,714.7 L161.46,711.25 L162.04,707.5 L162.62,703.47 L163.2,699.14 L163.78,694.52 L164.36,689.62 L164.94,684.43 L165.52,678.98 L166.1,673.28 L166.68,667.36 L167.26,661.23 L167.84,654.93 L168.42,648.49 L169,641.96 L169.58,635.37 L170.16,628.77 L170.74,622.21 L171.32,615.74 L171.9,609.42 L172.48,603.29 L173.06,597.42 L173.64,591.85 L174.22,586.64 L174.8,581.85 L175.38,577.51 L175.96,573.68 L176.54,570.4 L177.12,567.69 L177.7,565.59 L178.28,564.11 L178.86,563.29 L179.44,563.12 L180.02,563.52 L180.6,564.48 L181.18,565.97 L181.76,567.98 L182.34,570.5 L182.92,573.5 L183.5,576.95 L184.08,580.84 L184.66,585.11 L185.24,589.75 L185.82,594.7 L186.4,599.93 L186.98,605.39 L187.56,611.06 L188.14,616.87 L188.72,622.8 L189.3,628.8 L189.88,634.84 L190.46,640.86 L191.04,646.85 L191.62,652.77 L192.2,658.58 L192.78,664.26 L193.36,669.78 L193.94,675.13 L194.52,680.28 L195.1,685.21 L195.68,689.93 L196.26,694.41 L196.84,698.65 L197.42,702.65 L198,706.4 L198.58,709.91 L199.16,713.18 L199.74,716.21 L200.32,719.01 L200.9,721.58 L201.48,723.94 L202.06,726.1 L202.64,728.07 L203.22,729.85 L203.8,731.46 L204.38,732.9 L204.96,734.2 L205.54,735.36 L206.12,736.4 L206.7,737.31 L207.28,738.13 L207.86,738.84 L208.44,739.47 L209.02,740.02 L209.6,740.5 L210.18,740.91 L210.76,741.28 L211.34,741.59 L211.92,741.85 L212.5,742.08 L213.08,742.28 L213.66,742.45 L214.24,742.59 L214.82,742.71 L215.4,742.81 L215.98,742.9 L216.56,742.97 L217.14,743.03 L217.72,743.08 L218.3,743.12 L218.88,743.15 L219.46,743.18 L220.04,743.2 L220.62,743.22 L221.2,743.24 L221.78,743.25 L222.36,743.26 L222.94,743.27 L223.52,743.27 L224.1,743.28 L224.68,743.28 L225.26,743.29 L225.84,743.29 L226.42,743.29 L227,743.29 L227.58,743.3 L228.16,743.3 L228.74,743.3 L229.32,743.3 L229.9,743.3 L230.48,743.3 L231.06,743.3 L231.64,743.3 L232.22,743.3 L232.8,743.3 L233.38,743.3 L233.96,743.3 L234.54,743.3 L235.12,743.3 L235.7,743.3 L236.28,743.3 L236.86,743.3 L237.44,743.3 L238.02,743.3 L238.6,743.3 L239.18,743.3 L239.76,743.3 L240.34,743.3 L240.92,743.3 L241.5,743.3 L242.08,743.3 L242.66,743.3 L243.24,743.3 L243.82,743.3 L244.4,743.3 L244.98,743.3 L245.56,743.3 L246.14,743.3 L246.72,743.3 L247.3,743.3 L247.88,743.3 L248.46,743.3 L249.04,743.3 L249.62,743.3 L250.2,743.3 L250.78,743.3 L251.36,743.3 L251.94,743.3 L252.52,743.3 L253.1,743.3 L253.68,743.3 L254.26,743.3 L254.84,743.3 L255.42,743.3 L256,743.3 L256.58,743.3 L257.16,743.3 L257.74,743.3 L258.32,743.3 L258.9,743.3 L259.48,743.3 L260.06,743.3 L260.64,743.3 L261.22,743.3 L261.8,743.3 L262.38,743.3 L262.96,743.3 L263.54,743.3 L264.12,743.3 L264.7,743.3 L265.28,743.3 L265.86,743.3 L266.44,743.3 L267.02,743.3 L267.6,743.3 L268.18,743.3 L268.76,743.3 L269.34,743.3 L269.92,743.3 L270.5,743.3 L271.08,743.3 L271.66,743.3 L272.24,743.3 L272.82,743.3 L273.4,743.3 L273.98,743.3 L274.56,743.3 L275.14,743.3 L275.72,743.3 L276.3,743.3 L276.88,743.3 L277.46,743.3 L278.04,743.3 L278.62,743.3 L279.2,743.3 L279.78,743.3 L280.36,743.3 L280.94,743.3 L281.52,743.3 L282.1,743.3 L282.68,743.3 L283.26,743.3 L283.84,743.3 L284.42,743.3 L285,743.3 L285.58,743.3 L286.16,743.3 L286.74,743.3 L287.32,743.3 L287.9,743.3 L288.48,743.3 L289.06,743.3 L289.64,743.3 L290.22,743.3 L290.8,743.3 L291.38,743.3 L291.96,743.3 L292.54,743.3 L293.12,743.3 L293.7,743.3 L294.28,743.3 L294.86,743.3 L295.44,743.3 L296.02,743.3 L296.6,743.3 L297.18,743.3 L297.76,743.3 L298.34,743.3 L298.92,743.3 L299.5,743.3 L300.08,743.3 L300.66,743.3 L301.24,743.3 L301.82,743.3 L302.4,743.3 L302.98,743.3 L303.56,743.3 L304.14,743.3 L304.72,743.3 L305.3,743.3 L305.88,743.3 L306.46,743.3 L307.04,743.3 L307.62,743.3 L308.2,743.3 L308.78,743.3 L309.36,743.3 L309.94,743.3 L310.52,743.3 L311.1,743.3 L311.68,743.3 L312.26,743.3 L312.84,743.3 L313.42,743.3 L314,743.3 L314,743.3 L140,743.3 Z" fill="#e9adb1"/>
<path d="M67.6,743.26 L68.21,743.26 L68.82,743.25 L69.43,743.25 L70.04,743.25 L70.64,743.25 L71.25,743.25 L71.86,743.24 L72.47,743.24 L73.08,743.24 L73.69,743.24 L74.3,743.24 L74.91,743.23 L75.52,743.23 L76.13,743.23 L76.73,743.22 L77.34,743.22 L77.95,743.22 L78.56,743.22 L79.17,743.21 L79.78,743.21 L80.39,743.21 L81,743.2 L81.61,743.2 L82.22,743.2 L82.82,743.19 L83.43,743.19 L84.04,743.18 L84.65,743.18 L85.26,743.17 L85.87,743.17 L86.48,743.16 L87.09,743.16 L87.7,743.15 L88.31,743.15 L88.91,743.14 L89.52,743.14 L90.13,743.13 L90.74,743.12 L91.35,743.12 L91.96,743.11 L92.57,743.1 L93.18,743.1 L93.79,743.09 L94.4,743.08 L95,743.07 L95.61,743.06 L96.22,743.06 L96.83,743.05 L97.44,743.04 L98.05,743.03 L98.66,743.02 L99.27,743.01 L99.88,743 L100.49,742.98 L101.09,742.97 L101.7,742.96 L102.31,742.95 L102.92,742.93 L103.53,742.92 L104.14,742.91 L104.75,742.89 L105.36,742.88 L105.97,742.86 L106.58,742.84 L107.19,742.83 L107.79,742.81 L108.4,742.79 L109.01,742.77 L109.62,742.75 L110.23,742.73 L110.84,742.71 L111.45,742.69 L112.06,742.66 L112.67,742.64 L113.28,742.61 L113.88,742.59 L114.49,742.56 L115.1,742.53 L115.71,742.51 L116.32,742.48 L116.93,742.45 L117.54,742.41 L118.15,742.38 L118.76,742.35 L119.37,742.31 L119.97,742.27 L120.58,742.23 L121.19,742.19 L121.8,742.15 L122.41,742.11 L123.02,742.07 L123.63,742.02 L124.24,741.97 L124.85,741.92 L125.45,741.87 L126.06,741.82 L126.67,741.76 L127.28,741.7 L127.89,741.64 L128.5,741.58 L129.11,741.52 L129.72,741.45 L130.33,741.38 L130.94,741.31 L131.54,741.24 L132.15,741.16 L132.76,741.08 L133.37,741 L133.98,740.91 L134.59,740.82 L135.2,740.73 L135.81,740.63 L136.42,740.54 L137.03,740.43 L137.63,740.33 L138.24,740.22 L138.85,740.1 L139.46,739.98 L140.07,739.86 L140.68,739.73 L141.29,739.6 L141.9,739.46 L142.51,739.32 L143.12,739.17 L143.73,739.02 L144.33,738.86 L144.94,738.7 L145.55,738.53 L146.16,738.35 L146.77,738.17 L147.38,737.98 L147.99,737.79 L148.6,737.58 L149.21,737.37 L149.81,737.16 L150.42,736.93 L151.03,736.7 L151.64,736.46 L152.25,736.21 L152.86,735.95 L153.47,735.68 L154.08,735.4 L154.69,735.12 L155.3,734.82 L155.91,734.51 L156.51,734.19 L157.12,733.86 L157.73,733.52 L158.34,733.17 L158.95,732.81 L159.56,732.43 L160.17,732.04 L160.78,731.63 L161.39,731.22 L162,730.79 L162.6,730.34 L163.21,729.88 L163.82,729.4 L164.43,728.91 L165.04,728.4 L165.65,727.88 L166.26,727.34 L166.87,726.78 L167.48,726.2 L168.09,725.61 L168.69,724.99 L169.3,724.36 L169.91,723.71 L170.52,723.03 L171.13,722.34 L171.74,721.62 L172.35,720.88 L172.96,720.12 L173.57,719.34 L174.18,718.54 L174.78,717.71 L175.39,716.86 L176,715.98 L176.61,715.08 L177.22,714.16 L177.83,713.21 L178.44,712.23 L179.05,711.23 L179.66,710.2 L180.26,709.15 L180.87,708.07 L181.48,706.97 L182.09,705.83 L182.7,704.68 L183.31,703.49 L183.92,702.28 L184.53,701.05 L185.14,699.79 L185.75,698.5 L186.35,697.19 L186.96,695.86 L187.57,694.5 L188.18,693.12 L188.79,691.72 L189.4,690.3 L190.01,688.86 L190.62,687.4 L191.23,685.93 L191.84,684.44 L192.44,682.93 L193.05,681.42 L193.66,679.9 L194.27,678.37 L194.88,676.83 L195.49,675.3 L196.1,673.76 L196.71,672.23 L197.32,670.71 L197.93,669.2 L198.54,667.7 L199.14,666.23 L199.75,664.77 L200.36,663.35 L200.97,661.95 L201.58,660.59 L202.19,659.28 L202.8,658.01 L203.41,656.79 L204.02,655.63 L204.63,654.53 L205.23,653.5 L205.84,652.55 L206.45,651.68 L207.06,650.89 L207.67,650.2 L208.28,649.6 L208.89,649.11 L209.5,648.73 L210.11,648.47 L210.72,648.33 L211.32,648.31 L211.93,648.42 L212.54,648.67 L213.15,649.06 L213.76,649.59 L214.37,650.27 L214.98,651.1 L215.59,652.08 L216.2,653.2 L216.81,654.48 L217.41,655.91 L218.02,657.49 L218.63,659.21 L219.24,661.08 L219.85,663.08 L220.46,665.22 L221.07,667.48 L221.68,669.86 L222.29,672.35 L222.9,674.94 L223.5,677.61 L224.11,680.37 L224.72,683.19 L225.33,686.06 L225.94,688.97 L226.55,691.9 L227.16,694.84 L227.77,697.78 L228.38,700.71 L228.99,703.59 L229.59,706.43 L230.2,709.22 L230.81,711.92 L231.42,714.54 L232.03,717.07 L232.64,719.49 L233.25,721.79 L233.86,723.98 L234.47,726.03 L235.08,727.95 L235.68,729.74 L236.29,731.39 L236.9,732.91 L237.51,734.29 L238.12,735.54 L238.73,736.67 L239.34,737.67 L239.95,738.55 L240.56,739.33 L241.17,740.01 L241.77,740.59 L242.38,741.09 L242.99,741.52 L243.6,741.87 L244.21,742.17 L244.82,742.41 L245.43,742.61 L246.04,742.77 L246.65,742.9 L247.26,743 L247.86,743.08 L248.47,743.14 L249.08,743.18 L249.69,743.22 L250.3,743.24 L250.3,743.3 L67.6,743.3 Z" fill="#b1afd7"/>
<path d="M127,743.27 L127.63,743.26 L128.25,743.26 L128.88,743.26 L129.5,743.26 L130.13,743.26 L130.76,743.26 L131.38,743.25 L132.01,743.25 L132.63,743.25 L133.26,743.25 L133.89,743.25 L134.51,743.24 L135.14,743.24 L135.76,743.24 L136.39,743.24 L137.02,743.24 L137.64,743.23 L138.27,743.23 L138.89,743.23 L139.52,743.23 L140.15,743.22 L140.77,743.22 L141.4,743.22 L142.02,743.21 L142.65,743.21 L143.28,743.21 L143.9,743.2 L144.53,743.2 L145.15,743.2 L145.78,743.19 L146.41,743.19 L147.03,743.18 L147.66,743.18 L148.28,743.17 L148.91,743.17 L149.54,743.16 L150.16,743.16 L150.79,743.15 L151.41,743.15 L152.04,743.14 L152.67,743.13 L153.29,743.13 L153.92,743.12 L154.54,743.11 L155.17,743.11 L155.8,743.1 L156.42,743.09 L157.05,743.08 L157.67,743.08 L158.3,743.07 L158.93,743.06 L159.55,743.05 L160.18,743.04 L160.8,743.03 L161.43,743.02 L162.06,743.01 L162.68,743 L163.31,742.99 L163.93,742.97 L164.56,742.96 L165.19,742.95 L165.81,742.93 L166.44,742.92 L167.06,742.9 L167.69,742.89 L168.32,742.87 L168.94,742.86 L169.57,742.84 L170.19,742.82 L170.82,742.8 L171.45,742.78 L172.07,742.77 L172.7,742.74 L173.32,742.72 L173.95,742.7 L174.58,742.68 L175.2,742.65 L175.83,742.63 L176.45,742.6 L177.08,742.58 L177.71,742.55 L178.33,742.52 L178.96,742.49 L179.58,742.46 L180.21,742.43 L180.84,742.39 L181.46,742.36 L182.09,742.32 L182.71,742.28 L183.34,742.24 L183.97,742.2 L184.59,742.16 L185.22,742.12 L185.84,742.07 L186.47,742.02 L187.1,741.97 L187.72,741.92 L188.35,741.87 L188.97,741.82 L189.6,741.76 L190.23,741.7 L190.85,741.64 L191.48,741.57 L192.1,741.51 L192.73,741.44 L193.36,741.37 L193.98,741.29 L194.61,741.22 L195.23,741.14 L195.86,741.05 L196.49,740.97 L197.11,740.88 L197.74,740.79 L198.36,740.69 L198.99,740.59 L199.62,740.49 L200.24,740.38 L200.87,740.27 L201.49,740.15 L202.12,740.03 L202.75,739.91 L203.37,739.78 L204,739.64 L204.62,739.5 L205.25,739.36 L205.88,739.21 L206.5,739.05 L207.13,738.89 L207.75,738.72 L208.38,738.55 L209.01,738.37 L209.63,738.18 L210.26,737.99 L210.88,737.79 L211.51,737.58 L212.14,737.36 L212.76,737.14 L213.39,736.91 L214.01,736.67 L214.64,736.42 L215.27,736.16 L215.89,735.89 L216.52,735.61 L217.14,735.33 L217.77,735.03 L218.4,734.72 L219.02,734.4 L219.65,734.07 L220.27,733.72 L220.9,733.37 L221.53,733 L222.15,732.62 L222.78,732.23 L223.4,731.82 L224.03,731.39 L224.66,730.96 L225.28,730.5 L225.91,730.04 L226.53,729.55 L227.16,729.05 L227.79,728.53 L228.41,728 L229.04,727.45 L229.66,726.88 L230.29,726.29 L230.92,725.68 L231.54,725.05 L232.17,724.4 L232.79,723.73 L233.42,723.03 L234.05,722.32 L234.67,721.58 L235.3,720.82 L235.92,720.04 L236.55,719.23 L237.18,718.4 L237.8,717.55 L238.43,716.67 L239.05,715.76 L239.68,714.83 L240.31,713.87 L240.93,712.88 L241.56,711.87 L242.18,710.83 L242.81,709.77 L243.44,708.67 L244.06,707.55 L244.69,706.4 L245.31,705.23 L245.94,704.02 L246.57,702.79 L247.19,701.53 L247.82,700.24 L248.44,698.93 L249.07,697.59 L249.7,696.23 L250.32,694.84 L250.95,693.43 L251.57,691.99 L252.2,690.53 L252.83,689.06 L253.45,687.56 L254.08,686.05 L254.7,684.52 L255.33,682.97 L255.96,681.41 L256.58,679.85 L257.21,678.28 L257.83,676.7 L258.46,675.12 L259.09,673.54 L259.71,671.97 L260.34,670.41 L260.96,668.86 L261.59,667.33 L262.22,665.81 L262.84,664.33 L263.47,662.87 L264.09,661.45 L264.72,660.07 L265.35,658.73 L265.97,657.45 L266.6,656.23 L267.22,655.07 L267.85,653.97 L268.48,652.96 L269.1,652.03 L269.73,651.18 L270.35,650.43 L270.98,649.79 L271.61,649.25 L272.23,648.82 L272.86,648.52 L273.48,648.35 L274.11,648.3 L274.74,648.4 L275.36,648.63 L275.99,649.02 L276.61,649.55 L277.24,650.24 L277.87,651.08 L278.49,652.09 L279.12,653.25 L279.74,654.57 L280.37,656.05 L281,657.69 L281.62,659.48 L282.25,661.42 L282.87,663.51 L283.5,665.73 L284.13,668.09 L284.75,670.56 L285.38,673.15 L286,675.84 L286.63,678.63 L287.26,681.48 L287.88,684.41 L288.51,687.38 L289.13,690.38 L289.76,693.4 L290.39,696.43 L291.01,699.44 L291.64,702.43 L292.26,705.37 L292.89,708.25 L293.52,711.06 L294.14,713.78 L294.77,716.41 L295.39,718.92 L296.02,721.32 L296.65,723.59 L297.27,725.72 L297.9,727.72 L298.52,729.57 L299.15,731.28 L299.78,732.85 L300.4,734.27 L301.03,735.56 L301.65,736.71 L302.28,737.73 L302.91,738.63 L303.53,739.42 L304.16,740.1 L304.78,740.69 L305.41,741.19 L306.04,741.61 L306.66,741.96 L307.29,742.25 L307.91,742.48 L308.54,742.67 L309.17,742.82 L309.79,742.94 L310.42,743.04 L311.04,743.11 L311.67,743.16 L312.3,743.2 L312.92,743.23 L313.55,743.25 L314.17,743.27 L314.8,743.28 L314.8,743.3 L127,743.3 Z" fill="#b1afd7"/>
<path d="M67.6,743.26 L68.21,743.26 L68.82,743.25 L69.43,743.25 L70.04,743.25 L70.64,743.25 L71.25,743.25 L71.86,743.24 L72.47,743.24 L73.08,743.24 L73.69,743.24 L74.3,743.24 L74.91,743.23 L75.52,743.23 L76.13,743.23 L76.73,743.22 L77.34,743.22 L77.95,743.22 L78.56,743.22 L79.17,743.21 L79.78,743.21 L80.39,743.21 L81,743.2 L81.61,743.2 L82.22,743.2 L82.82,743.19 L83.43,743.19 L84.04,743.18 L84.65,743.18 L85.26,743.17 L85.87,743.17 L86.48,743.16 L87.09,743.16 L87.7,743.15 L88.31,743.15 L88.91,743.14 L89.52,743.14 L90.13,743.13 L90.74,743.12 L91.35,743.12 L91.96,743.11 L92.57,743.1 L93.18,743.1 L93.79,743.09 L94.4,743.08 L95,743.07 L95.61,743.06 L96.22,743.06 L96.83,743.05 L97.44,743.04 L98.05,743.03 L98.66,743.02 L99.27,743.01 L99.88,743 L100.49,742.98 L101.09,742.97 L101.7,742.96 L102.31,742.95 L102.92,742.93 L103.53,742.92 L104.14,742.91 L104.75,742.89 L105.36,742.88 L105.97,742.86 L106.58,742.84 L107.19,742.83 L107.79,742.81 L108.4,742.79 L109.01,742.77 L109.62,742.75 L110.23,742.73 L110.84,742.71 L111.45,742.69 L112.06,742.66 L112.67,742.64 L113.28,742.61 L113.88,742.59 L114.49,742.56 L115.1,742.53 L115.71,742.51 L116.32,742.48 L116.93,742.45 L117.54,742.41 L118.15,742.38 L118.76,742.35 L119.37,742.31 L119.97,742.27 L120.58,742.23 L121.19,742.19 L121.8,742.15 L122.41,742.11 L123.02,742.07 L123.63,742.02 L124.24,741.97 L124.85,741.92 L125.45,741.87 L126.06,741.82 L126.67,741.76 L127.28,741.7 L127.89,741.64 L128.5,741.58 L129.11,741.52 L129.72,741.45 L130.33,741.38 L130.94,741.31 L131.54,741.24 L132.15,741.16 L132.76,741.08 L133.37,741 L133.98,740.91 L134.59,740.82 L135.2,740.73 L135.81,740.63 L136.42,740.54 L137.03,740.43 L137.63,740.33 L138.24,740.22 L138.85,740.1 L139.46,739.98 L140.07,739.86 L140.68,739.73 L141.29,739.6 L141.9,739.46 L142.51,739.32 L143.12,739.17 L143.73,739.02 L144.33,738.86 L144.94,738.7 L145.55,738.53 L146.16,738.35 L146.77,738.17 L147.38,737.98 L147.99,737.79 L148.6,737.58 L149.21,737.37 L149.81,737.16 L150.42,736.93 L151.03,736.7 L151.64,736.46 L152.25,736.21 L152.86,735.95 L153.47,735.68 L154.08,735.4 L154.69,735.12 L155.3,734.82 L155.91,734.51 L156.51,734.19 L157.12,733.86 L157.73,733.52 L158.34,733.17 L158.95,732.81 L159.56,732.43 L160.17,732.04 L160.78,731.63 L161.39,731.22 L162,730.79 L162.6,730.34 L163.21,729.88 L163.82,729.4 L164.43,728.91 L165.04,728.4 L165.65,727.88 L166.26,727.34 L166.87,726.78 L167.48,726.2 L168.09,725.61 L168.69,724.99 L169.3,724.36 L169.91,723.71 L170.52,723.03 L171.13,722.34 L171.74,721.62 L172.35,720.88 L172.96,720.12 L173.57,719.34 L174.18,718.54 L174.78,717.71 L175.39,716.86 L176,715.98 L176.61,715.08 L177.22,714.16 L177.83,713.21 L178.44,712.23 L179.05,711.23 L179.66,710.2 L180.26,709.15 L180.87,708.07 L181.48,706.97 L182.09,705.83 L182.7,704.68 L183.31,703.49 L183.92,702.28 L184.53,701.05 L185.14,699.79 L185.75,698.5 L186.35,697.19 L186.96,695.86 L187.57,694.5 L188.18,693.12 L188.79,691.72 L189.4,690.3 L190.01,688.86 L190.62,687.4 L191.23,685.93 L191.84,684.44 L192.44,682.93 L193.05,681.42 L193.66,679.9 L194.27,678.37 L194.88,676.83 L195.49,675.3 L196.1,673.76 L196.71,672.23 L197.32,670.71 L197.93,669.2 L198.54,667.7 L199.14,666.23 L199.75,664.77 L200.36,663.35 L200.97,661.95 L201.58,660.59 L202.19,659.28 L202.8,658.01 L203.41,656.79 L204.02,655.63 L204.63,654.53 L205.23,653.5 L205.84,652.55 L206.45,651.68 L207.06,650.89 L207.67,650.2 L208.28,649.6 L208.89,649.11 L209.5,648.73 L210.11,648.47 L210.72,648.33 L211.32,648.31 L211.93,648.42 L212.54,648.67 L213.15,649.06 L213.76,649.59 L214.37,650.27 L214.98,651.1 L215.59,652.08 L216.2,653.2 L216.81,654.48 L217.41,655.91 L218.02,657.49 L218.63,659.21 L219.24,661.08 L219.85,663.08 L220.46,665.22 L221.07,667.48 L221.68,669.86 L222.29,672.35 L222.9,674.94 L223.5,677.61 L224.11,680.37 L224.72,683.19 L225.33,686.06 L225.94,688.97 L226.55,691.9 L227.16,694.84 L227.77,697.78 L228.38,700.71 L228.99,703.59 L229.59,706.43 L230.2,709.22 L230.81,711.92 L231.42,714.54 L232.03,717.07 L232.64,719.49 L233.25,721.79 L233.86,723.98 L234.47,726.03 L235.08,727.95 L235.68,729.74 L236.29,731.39 L236.9,732.91 L237.51,734.29 L238.12,735.54 L238.73,736.67 L239.34,737.67 L239.95,738.55 L240.56,739.33 L241.17,740.01 L241.77,740.59 L242.38,741.09 L242.99,741.52 L243.6,741.87 L244.21,742.17 L244.82,742.41 L245.43,742.61 L246.04,742.77 L246.65,742.9 L247.26,743 L247.86,743.08 L248.47,743.14 L249.08,743.18 L249.69,743.22 L250.3,743.24 L250.3,743.3 L67.6,743.3 Z" fill="#a27ab8" clip-path="url(#cR)"/>
<path d="M127,743.27 L127.63,743.26 L128.25,743.26 L128.88,743.26 L129.5,743.26 L130.13,743.26 L130.76,743.26 L131.38,743.25 L132.01,743.25 L132.63,743.25 L133.26,743.25 L133.89,743.25 L134.51,743.24 L135.14,743.24 L135.76,743.24 L136.39,743.24 L137.02,743.24 L137.64,743.23 L138.27,743.23 L138.89,743.23 L139.52,743.23 L140.15,743.22 L140.77,743.22 L141.4,743.22 L142.02,743.21 L142.65,743.21 L143.28,743.21 L143.9,743.2 L144.53,743.2 L145.15,743.2 L145.78,743.19 L146.41,743.19 L147.03,743.18 L147.66,743.18 L148.28,743.17 L148.91,743.17 L149.54,743.16 L150.16,743.16 L150.79,743.15 L151.41,743.15 L152.04,743.14 L152.67,743.13 L153.29,743.13 L153.92,743.12 L154.54,743.11 L155.17,743.11 L155.8,743.1 L156.42,743.09 L157.05,743.08 L157.67,743.08 L158.3,743.07 L158.93,743.06 L159.55,743.05 L160.18,743.04 L160.8,743.03 L161.43,743.02 L162.06,743.01 L162.68,743 L163.31,742.99 L163.93,742.97 L164.56,742.96 L165.19,742.95 L165.81,742.93 L166.44,742.92 L167.06,742.9 L167.69,742.89 L168.32,742.87 L168.94,742.86 L169.57,742.84 L170.19,742.82 L170.82,742.8 L171.45,742.78 L172.07,742.77 L172.7,742.74 L173.32,742.72 L173.95,742.7 L174.58,742.68 L175.2,742.65 L175.83,742.63 L176.45,742.6 L177.08,742.58 L177.71,742.55 L178.33,742.52 L178.96,742.49 L179.58,742.46 L180.21,742.43 L180.84,742.39 L181.46,742.36 L182.09,742.32 L182.71,742.28 L183.34,742.24 L183.97,742.2 L184.59,742.16 L185.22,742.12 L185.84,742.07 L186.47,742.02 L187.1,741.97 L187.72,741.92 L188.35,741.87 L188.97,741.82 L189.6,741.76 L190.23,741.7 L190.85,741.64 L191.48,741.57 L192.1,741.51 L192.73,741.44 L193.36,741.37 L193.98,741.29 L194.61,741.22 L195.23,741.14 L195.86,741.05 L196.49,740.97 L197.11,740.88 L197.74,740.79 L198.36,740.69 L198.99,740.59 L199.62,740.49 L200.24,740.38 L200.87,740.27 L201.49,740.15 L202.12,740.03 L202.75,739.91 L203.37,739.78 L204,739.64 L204.62,739.5 L205.25,739.36 L205.88,739.21 L206.5,739.05 L207.13,738.89 L207.75,738.72 L208.38,738.55 L209.01,738.37 L209.63,738.18 L210.26,737.99 L210.88,737.79 L211.51,737.58 L212.14,737.36 L212.76,737.14 L213.39,736.91 L214.01,736.67 L214.64,736.42 L215.27,736.16 L215.89,735.89 L216.52,735.61 L217.14,735.33 L217.77,735.03 L218.4,734.72 L219.02,734.4 L219.65,734.07 L220.27,733.72 L220.9,733.37 L221.53,733 L222.15,732.62 L222.78,732.23 L223.4,731.82 L224.03,731.39 L224.66,730.96 L225.28,730.5 L225.91,730.04 L226.53,729.55 L227.16,729.05 L227.79,728.53 L228.41,728 L229.04,727.45 L229.66,726.88 L230.29,726.29 L230.92,725.68 L231.54,725.05 L232.17,724.4 L232.79,723.73 L233.42,723.03 L234.05,722.32 L234.67,721.58 L235.3,720.82 L235.92,720.04 L236.55,719.23 L237.18,718.4 L237.8,717.55 L238.43,716.67 L239.05,715.76 L239.68,714.83 L240.31,713.87 L240.93,712.88 L241.56,711.87 L242.18,710.83 L242.81,709.77 L243.44,708.67 L244.06,707.55 L244.69,706.4 L245.31,705.23 L245.94,704.02 L246.57,702.79 L247.19,701.53 L247.82,700.24 L248.44,698.93 L249.07,697.59 L249.7,696.23 L250.32,694.84 L250.95,693.43 L251.57,691.99 L252.2,690.53 L252.83,689.06 L253.45,687.56 L254.08,686.05 L254.7,684.52 L255.33,682.97 L255.96,681.41 L256.58,679.85 L257.21,678.28 L257.83,676.7 L258.46,675.12 L259.09,673.54 L259.71,671.97 L260.34,670.41 L260.96,668.86 L261.59,667.33 L262.22,665.81 L262.84,664.33 L263.47,662.87 L264.09,661.45 L264.72,660.07 L265.35,658.73 L265.97,657.45 L266.6,656.23 L267.22,655.07 L267.85,653.97 L268.48,652.96 L269.1,652.03 L269.73,651.18 L270.35,650.43 L270.98,649.79 L271.61,649.25 L272.23,648.82 L272.86,648.52 L273.48,648.35 L274.11,648.3 L274.74,648.4 L275.36,648.63 L275.99,649.02 L276.61,649.55 L277.24,650.24 L277.87,651.08 L278.49,652.09 L279.12,653.25 L279.74,654.57 L280.37,656.05 L281,657.69 L281.62,659.48 L282.25,661.42 L282.87,663.51 L283.5,665.73 L284.13,668.09 L284.75,670.56 L285.38,673.15 L286,675.84 L286.63,678.63 L287.26,681.48 L287.88,684.41 L288.51,687.38 L289.13,690.38 L289.76,693.4 L290.39,696.43 L291.01,699.44 L291.64,702.43 L292.26,705.37 L292.89,708.25 L293.52,711.06 L294.14,713.78 L294.77,716.41 L295.39,718.92 L296.02,721.32 L296.65,723.59 L297.27,725.72 L297.9,727.72 L298.52,729.57 L299.15,731.28 L299.78,732.85 L300.4,734.27 L301.03,735.56 L301.65,736.71 L302.28,737.73 L302.91,738.63 L303.53,739.42 L304.16,740.1 L304.78,740.69 L305.41,741.19 L306.04,741.61 L306.66,741.96 L307.29,742.25 L307.91,742.48 L308.54,742.67 L309.17,742.82 L309.79,742.94 L310.42,743.04 L311.04,743.11 L311.67,743.16 L312.3,743.2 L312.92,743.23 L313.55,743.25 L314.17,743.27 L314.8,743.28 L314.8,743.3 L127,743.3 Z" fill="#a27ab8" clip-path="url(#cR)"/>
<path d="M127,743.27 L127.63,743.26 L128.25,743.26 L128.88,743.26 L129.5,743.26 L130.13,743.26 L130.76,743.26 L131.38,743.25 L132.01,743.25 L132.63,743.25 L133.26,743.25 L133.89,743.25 L134.51,743.24 L135.14,743.24 L135.76,743.24 L136.39,743.24 L137.02,743.24 L137.64,743.23 L138.27,743.23 L138.89,743.23 L139.52,743.23 L140.15,743.22 L140.77,743.22 L141.4,743.22 L142.02,743.21 L142.65,743.21 L143.28,743.21 L143.9,743.2 L144.53,743.2 L145.15,743.2 L145.78,743.19 L146.41,743.19 L147.03,743.18 L147.66,743.18 L148.28,743.17 L148.91,743.17 L149.54,743.16 L150.16,743.16 L150.79,743.15 L151.41,743.15 L152.04,743.14 L152.67,743.13 L153.29,743.13 L153.92,743.12 L154.54,743.11 L155.17,743.11 L155.8,743.1 L156.42,743.09 L157.05,743.08 L157.67,743.08 L158.3,743.07 L158.93,743.06 L159.55,743.05 L160.18,743.04 L160.8,743.03 L161.43,743.02 L162.06,743.01 L162.68,743 L163.31,742.99 L163.93,742.97 L164.56,742.96 L165.19,742.95 L165.81,742.93 L166.44,742.92 L167.06,742.9 L167.69,742.89 L168.32,742.87 L168.94,742.86 L169.57,742.84 L170.19,742.82 L170.82,742.8 L171.45,742.78 L172.07,742.77 L172.7,742.74 L173.32,742.72 L173.95,742.7 L174.58,742.68 L175.2,742.65 L175.83,742.63 L176.45,742.6 L177.08,742.58 L177.71,742.55 L178.33,742.52 L178.96,742.49 L179.58,742.46 L180.21,742.43 L180.84,742.39 L181.46,742.36 L182.09,742.32 L182.71,742.28 L183.34,742.24 L183.97,742.2 L184.59,742.16 L185.22,742.12 L185.84,742.07 L186.47,742.02 L187.1,741.97 L187.72,741.92 L188.35,741.87 L188.97,741.82 L189.6,741.76 L190.23,741.7 L190.85,741.64 L191.48,741.57 L192.1,741.51 L192.73,741.44 L193.36,741.37 L193.98,741.29 L194.61,741.22 L195.23,741.14 L195.86,741.05 L196.49,740.97 L197.11,740.88 L197.74,740.79 L198.36,740.69 L198.99,740.59 L199.62,740.49 L200.24,740.38 L200.87,740.27 L201.49,740.15 L202.12,740.03 L202.75,739.91 L203.37,739.78 L204,739.64 L204.62,739.5 L205.25,739.36 L205.88,739.21 L206.5,739.05 L207.13,738.89 L207.75,738.72 L208.38,738.55 L209.01,738.37 L209.63,738.18 L210.26,737.99 L210.88,737.79 L211.51,737.58 L212.14,737.36 L212.76,737.14 L213.39,736.91 L214.01,736.67 L214.64,736.42 L215.27,736.16 L215.89,735.89 L216.52,735.61 L217.14,735.33 L217.77,735.03 L218.4,734.72 L219.02,734.4 L219.65,734.07 L220.27,733.72 L220.9,733.37 L221.53,733 L222.15,732.62 L222.78,732.23 L223.4,731.82 L224.03,731.39 L224.66,730.96 L225.28,730.5 L225.91,730.04 L226.53,729.55 L227.16,729.05 L227.79,728.53 L228.41,728 L229.04,727.45 L229.66,726.88 L230.29,726.29 L230.92,725.68 L231.54,725.05 L232.17,724.4 L232.79,723.73 L233.42,723.03 L234.05,722.32 L234.67,721.58 L235.3,720.82 L235.92,720.04 L236.55,719.23 L237.18,718.4 L237.8,717.55 L238.43,716.67 L239.05,715.76 L239.68,714.83 L240.31,713.87 L240.93,712.88 L241.56,711.87 L242.18,710.83 L242.81,709.77 L243.44,708.67 L244.06,707.55 L244.69,706.4 L245.31,705.23 L245.94,704.02 L246.57,702.79 L247.19,701.53 L247.82,700.24 L248.44,698.93 L249.07,697.59 L249.7,696.23 L250.32,694.84 L250.95,693.43 L251.57,691.99 L252.2,690.53 L252.83,689.06 L253.45,687.56 L254.08,686.05 L254.7,684.52 L255.33,682.97 L255.96,681.41 L256.58,679.85 L257.21,678.28 L257.83,676.7 L258.46,675.12 L259.09,673.54 L259.71,671.97 L260.34,670.41 L260.96,668.86 L261.59,667.33 L262.22,665.81 L262.84,664.33 L263.47,662.87 L264.09,661.45 L264.72,660.07 L265.35,658.73 L265.97,657.45 L266.6,656.23 L267.22,655.07 L267.85,653.97 L268.48,652.96 L269.1,652.03 L269.73,651.18 L270.35,650.43 L270.98,649.79 L271.61,649.25 L272.23,648.82 L272.86,648.52 L273.48,648.35 L274.11,648.3 L274.74,648.4 L275.36,648.63 L275.99,649.02 L276.61,649.55 L277.24,650.24 L277.87,651.08 L278.49,652.09 L279.12,653.25 L279.74,654.57 L280.37,656.05 L281,657.69 L281.62,659.48 L282.25,661.42 L282.87,663.51 L283.5,665.73 L284.13,668.09 L284.75,670.56 L285.38,673.15 L286,675.84 L286.63,678.63 L287.26,681.48 L287.88,684.41 L288.51,687.38 L289.13,690.38 L289.76,693.4 L290.39,696.43 L291.01,699.44 L291.64,702.43 L292.26,705.37 L292.89,708.25 L293.52,711.06 L294.14,713.78 L294.77,716.41 L295.39,718.92 L296.02,721.32 L296.65,723.59 L297.27,725.72 L297.9,727.72 L298.52,729.57 L299.15,731.28 L299.78,732.85 L300.4,734.27 L301.03,735.56 L301.65,736.71 L302.28,737.73 L302.91,738.63 L303.53,739.42 L304.16,740.1 L304.78,740.69 L305.41,741.19 L306.04,741.61 L306.66,741.96 L307.29,742.25 L307.91,742.48 L308.54,742.67 L309.17,742.82 L309.79,742.94 L310.42,743.04 L311.04,743.11 L311.67,743.16 L312.3,743.2 L312.92,743.23 L313.55,743.25 L314.17,743.27 L314.8,743.28 L314.8,743.3 L127,743.3 Z" fill="#767abe" clip-path="url(#c1)"/>
<g clip-path="url(#cR)"><path d="M127,743.27 L127.63,743.26 L128.25,743.26 L128.88,743.26 L129.5,743.26 L130.13,743.26 L130.76,743.26 L131.38,743.25 L132.01,743.25 L132.63,743.25 L133.26,743.25 L133.89,743.25 L134.51,743.24 L135.14,743.24 L135.76,743.24 L136.39,743.24 L137.02,743.24 L137.64,743.23 L138.27,743.23 L138.89,743.23 L139.52,743.23 L140.15,743.22 L140.77,743.22 L141.4,743.22 L142.02,743.21 L142.65,743.21 L143.28,743.21 L143.9,743.2 L144.53,743.2 L145.15,743.2 L145.78,743.19 L146.41,743.19 L147.03,743.18 L147.66,743.18 L148.28,743.17 L148.91,743.17 L149.54,743.16 L150.16,743.16 L150.79,743.15 L151.41,743.15 L152.04,743.14 L152.67,743.13 L153.29,743.13 L153.92,743.12 L154.54,743.11 L155.17,743.11 L155.8,743.1 L156.42,743.09 L157.05,743.08 L157.67,743.08 L158.3,743.07 L158.93,743.06 L159.55,743.05 L160.18,743.04 L160.8,743.03 L161.43,743.02 L162.06,743.01 L162.68,743 L163.31,742.99 L163.93,742.97 L164.56,742.96 L165.19,742.95 L165.81,742.93 L166.44,742.92 L167.06,742.9 L167.69,742.89 L168.32,742.87 L168.94,742.86 L169.57,742.84 L170.19,742.82 L170.82,742.8 L171.45,742.78 L172.07,742.77 L172.7,742.74 L173.32,742.72 L173.95,742.7 L174.58,742.68 L175.2,742.65 L175.83,742.63 L176.45,742.6 L177.08,742.58 L177.71,742.55 L178.33,742.52 L178.96,742.49 L179.58,742.46 L180.21,742.43 L180.84,742.39 L181.46,742.36 L182.09,742.32 L182.71,742.28 L183.34,742.24 L183.97,742.2 L184.59,742.16 L185.22,742.12 L185.84,742.07 L186.47,742.02 L187.1,741.97 L187.72,741.92 L188.35,741.87 L188.97,741.82 L189.6,741.76 L190.23,741.7 L190.85,741.64 L191.48,741.57 L192.1,741.51 L192.73,741.44 L193.36,741.37 L193.98,741.29 L194.61,741.22 L195.23,741.14 L195.86,741.05 L196.49,740.97 L197.11,740.88 L197.74,740.79 L198.36,740.69 L198.99,740.59 L199.62,740.49 L200.24,740.38 L200.87,740.27 L201.49,740.15 L202.12,740.03 L202.75,739.91 L203.37,739.78 L204,739.64 L204.62,739.5 L205.25,739.36 L205.88,739.21 L206.5,739.05 L207.13,738.89 L207.75,738.72 L208.38,738.55 L209.01,738.37 L209.63,738.18 L210.26,737.99 L210.88,737.79 L211.51,737.58 L212.14,737.36 L212.76,737.14 L213.39,736.91 L214.01,736.67 L214.64,736.42 L215.27,736.16 L215.89,735.89 L216.52,735.61 L217.14,735.33 L217.77,735.03 L218.4,734.72 L219.02,734.4 L219.65,734.07 L220.27,733.72 L220.9,733.37 L221.53,733 L222.15,732.62 L222.78,732.23 L223.4,731.82 L224.03,731.39 L224.66,730.96 L225.28,730.5 L225.91,730.04 L226.53,729.55 L227.16,729.05 L227.79,728.53 L228.41,728 L229.04,727.45 L229.66,726.88 L230.29,726.29 L230.92,725.68 L231.54,725.05 L232.17,724.4 L232.79,723.73 L233.42,723.03 L234.05,722.32 L234.67,721.58 L235.3,720.82 L235.92,720.04 L236.55,719.23 L237.18,718.4 L237.8,717.55 L238.43,716.67 L239.05,715.76 L239.68,714.83 L240.31,713.87 L240.93,712.88 L241.56,711.87 L242.18,710.83 L242.81,709.77 L243.44,708.67 L244.06,707.55 L244.69,706.4 L245.31,705.23 L245.94,704.02 L246.57,702.79 L247.19,701.53 L247.82,700.24 L248.44,698.93 L249.07,697.59 L249.7,696.23 L250.32,694.84 L250.95,693.43 L251.57,691.99 L252.2,690.53 L252.83,689.06 L253.45,687.56 L254.08,686.05 L254.7,684.52 L255.33,682.97 L255.96,681.41 L256.58,679.85 L257.21,678.28 L257.83,676.7 L258.46,675.12 L259.09,673.54 L259.71,671.97 L260.34,670.41 L260.96,668.86 L261.59,667.33 L262.22,665.81 L262.84,664.33 L263.47,662.87 L264.09,661.45 L264.72,660.07 L265.35,658.73 L265.97,657.45 L266.6,656.23 L267.22,655.07 L267.85,653.97 L268.48,652.96 L269.1,652.03 L269.73,651.18 L270.35,650.43 L270.98,649.79 L271.61,649.25 L272.23,648.82 L272.86,648.52 L273.48,648.35 L274.11,648.3 L274.74,648.4 L275.36,648.63 L275.99,649.02 L276.61,649.55 L277.24,650.24 L277.87,651.08 L278.49,652.09 L279.12,653.25 L279.74,654.57 L280.37,656.05 L281,657.69 L281.62,659.48 L282.25,661.42 L282.87,663.51 L283.5,665.73 L284.13,668.09 L284.75,670.56 L285.38,673.15 L286,675.84 L286.63,678.63 L287.26,681.48 L287.88,684.41 L288.51,687.38 L289.13,690.38 L289.76,693.4 L290.39,696.43 L291.01,699.44 L291.64,702.43 L292.26,705.37 L292.89,708.25 L293.52,711.06 L294.14,713.78 L294.77,716.41 L295.39,718.92 L296.02,721.32 L296.65,723.59 L297.27,725.72 L297.9,727.72 L298.52,729.57 L299.15,731.28 L299.78,732.85 L300.4,734.27 L301.03,735.56 L301.65,736.71 L302.28,737.73 L302.91,738.63 L303.53,739.42 L304.16,740.1 L304.78,740.69 L305.41,741.19 L306.04,741.61 L306.66,741.96 L307.29,742.25 L307.91,742.48 L308.54,742.67 L309.17,742.82 L309.79,742.94 L310.42,743.04 L311.04,743.11 L311.67,743.16 L312.3,743.2 L312.92,743.23 L313.55,743.25 L314.17,743.27 L314.8,743.28 L314.8,743.3 L127,743.3 Z" fill="#7a62ac" clip-path="url(#c1)"/></g>
<path d="M140,743.26 L140.58,743.25 L141.16,743.23 L141.74,743.21 L142.32,743.19 L142.9,743.16 L143.48,743.13 L144.06,743.09 L144.64,743.03 L145.22,742.97 L145.8,742.89 L146.38,742.8 L146.96,742.68 L147.54,742.54 L148.12,742.38 L148.7,742.18 L149.28,741.94 L149.86,741.66 L150.44,741.34 L151.02,740.95 L151.6,740.5 L152.18,739.97 L152.76,739.35 L153.34,738.65 L153.92,737.83 L154.5,736.89 L155.08,735.83 L155.66,734.61 L156.24,733.23 L156.82,731.68 L157.4,729.94 L157.98,728 L158.56,725.83 L159.14,723.43 L159.72,720.79 L160.3,717.88 L160.88,714.7 L161.46,711.25 L162.04,707.5 L162.62,703.47 L163.2,699.14 L163.78,694.52 L164.36,689.62 L164.94,684.43 L165.52,678.98 L166.1,673.28 L166.68,667.36 L167.26,661.23 L167.84,654.93 L168.42,648.49 L169,641.96 L169.58,635.37 L170.16,628.77 L170.74,622.21 L171.32,615.74 L171.9,609.42 L172.48,603.29 L173.06,597.42 L173.64,591.85 L174.22,586.64 L174.8,581.85 L175.38,577.51 L175.96,573.68 L176.54,570.4 L177.12,567.69 L177.7,565.59 L178.28,564.11 L178.86,563.29 L179.44,563.12 L180.02,563.52 L180.6,564.48 L181.18,565.97 L181.76,567.98 L182.34,570.5 L182.92,573.5 L183.5,576.95 L184.08,580.84 L184.66,585.11 L185.24,589.75 L185.82,594.7 L186.4,599.93 L186.98,605.39 L187.56,611.06 L188.14,616.87 L188.72,622.8 L189.3,628.8 L189.88,634.84 L190.46,640.86 L191.04,646.85 L191.62,652.77 L192.2,658.58 L192.78,664.26 L193.36,669.78 L193.94,675.13 L194.52,680.28 L195.1,685.21 L195.68,689.93 L196.26,694.41 L196.84,698.65 L197.42,702.65 L198,706.4 L198.58,709.91 L199.16,713.18 L199.74,716.21 L200.32,719.01 L200.9,721.58 L201.48,723.94 L202.06,726.1 L202.64,728.07 L203.22,729.85 L203.8,731.46 L204.38,732.9 L204.96,734.2 L205.54,735.36 L206.12,736.4 L206.7,737.31 L207.28,738.13 L207.86,738.84 L208.44,739.47 L209.02,740.02 L209.6,740.5 L210.18,740.91 L210.76,741.28 L211.34,741.59 L211.92,741.85 L212.5,742.08 L213.08,742.28 L213.66,742.45 L214.24,742.59 L214.82,742.71 L215.4,742.81 L215.98,742.9 L216.56,742.97 L217.14,743.03 L217.72,743.08 L218.3,743.12 L218.88,743.15 L219.46,743.18 L220.04,743.2 L220.62,743.22 L221.2,743.24 L221.78,743.25 L222.36,743.26 L222.94,743.27 L223.52,743.27 L224.1,743.28 L224.68,743.28 L225.26,743.29 L225.84,743.29 L226.42,743.29 L227,743.29 L227.58,743.3 L228.16,743.3 L228.74,743.3 L229.32,743.3 L229.9,743.3 L230.48,743.3 L231.06,743.3 L231.64,743.3 L232.22,743.3 L232.8,743.3 L233.38,743.3 L233.96,743.3 L234.54,743.3 L235.12,743.3 L235.7,743.3 L236.28,743.3 L236.86,743.3 L237.44,743.3 L238.02,743.3 L238.6,743.3 L239.18,743.3 L239.76,743.3 L240.34,743.3 L240.92,743.3 L241.5,743.3 L242.08,743.3 L242.66,743.3 L243.24,743.3 L243.82,743.3 L244.4,743.3 L244.98,743.3 L245.56,743.3 L246.14,743.3 L246.72,743.3 L247.3,743.3 L247.88,743.3 L248.46,743.3 L249.04,743.3 L249.62,743.3 L250.2,743.3 L250.78,743.3 L251.36,743.3 L251.94,743.3 L252.52,743.3 L253.1,743.3 L253.68,743.3 L254.26,743.3 L254.84,743.3 L255.42,743.3 L256,743.3 L256.58,743.3 L257.16,743.3 L257.74,743.3 L258.32,743.3 L258.9,743.3 L259.48,743.3 L260.06,743.3 L260.64,743.3 L261.22,743.3 L261.8,743.3 L262.38,743.3 L262.96,743.3 L263.54,743.3 L264.12,743.3 L264.7,743.3 L265.28,743.3 L265.86,743.3 L266.44,743.3 L267.02,743.3 L267.6,743.3 L268.18,743.3 L268.76,743.3 L269.34,743.3 L269.92,743.3 L270.5,743.3 L271.08,743.3 L271.66,743.3 L272.24,743.3 L272.82,743.3 L273.4,743.3 L273.98,743.3 L274.56,743.3 L275.14,743.3 L275.72,743.3 L276.3,743.3 L276.88,743.3 L277.46,743.3 L278.04,743.3 L278.62,743.3 L279.2,743.3 L279.78,743.3 L280.36,743.3 L280.94,743.3 L281.52,743.3 L282.1,743.3 L282.68,743.3 L283.26,743.3 L283.84,743.3 L284.42,743.3 L285,743.3 L285.58,743.3 L286.16,743.3 L286.74,743.3 L287.32,743.3 L287.9,743.3 L288.48,743.3 L289.06,743.3 L289.64,743.3 L290.22,743.3 L290.8,743.3 L291.38,743.3 L291.96,743.3 L292.54,743.3 L293.12,743.3 L293.7,743.3 L294.28,743.3 L294.86,743.3 L295.44,743.3 L296.02,743.3 L296.6,743.3 L297.18,743.3 L297.76,743.3 L298.34,743.3 L298.92,743.3 L299.5,743.3 L300.08,743.3 L300.66,743.3 L301.24,743.3 L301.82,743.3 L302.4,743.3 L302.98,743.3 L303.56,743.3 L304.14,743.3 L304.72,743.3 L305.3,743.3 L305.88,743.3 L306.46,743.3 L307.04,743.3 L307.62,743.3 L308.2,743.3 L308.78,743.3 L309.36,743.3 L309.94,743.3 L310.52,743.3 L311.1,743.3 L311.68,743.3 L312.26,743.3 L312.84,743.3 L313.42,743.3 L314,743.3" fill="none" stroke="#cf2a35" stroke-width="1.75"/>
<path d="M67.6,743.26 L68.21,743.26 L68.82,743.25 L69.43,743.25 L70.04,743.25 L70.64,743.25 L71.25,743.25 L71.86,743.24 L72.47,743.24 L73.08,743.24 L73.69,743.24 L74.3,743.24 L74.91,743.23 L75.52,743.23 L76.13,743.23 L76.73,743.22 L77.34,743.22 L77.95,743.22 L78.56,743.22 L79.17,743.21 L79.78,743.21 L80.39,743.21 L81,743.2 L81.61,743.2 L82.22,743.2 L82.82,743.19 L83.43,743.19 L84.04,743.18 L84.65,743.18 L85.26,743.17 L85.87,743.17 L86.48,743.16 L87.09,743.16 L87.7,743.15 L88.31,743.15 L88.91,743.14 L89.52,743.14 L90.13,743.13 L90.74,743.12 L91.35,743.12 L91.96,743.11 L92.57,743.1 L93.18,743.1 L93.79,743.09 L94.4,743.08 L95,743.07 L95.61,743.06 L96.22,743.06 L96.83,743.05 L97.44,743.04 L98.05,743.03 L98.66,743.02 L99.27,743.01 L99.88,743 L100.49,742.98 L101.09,742.97 L101.7,742.96 L102.31,742.95 L102.92,742.93 L103.53,742.92 L104.14,742.91 L104.75,742.89 L105.36,742.88 L105.97,742.86 L106.58,742.84 L107.19,742.83 L107.79,742.81 L108.4,742.79 L109.01,742.77 L109.62,742.75 L110.23,742.73 L110.84,742.71 L111.45,742.69 L112.06,742.66 L112.67,742.64 L113.28,742.61 L113.88,742.59 L114.49,742.56 L115.1,742.53 L115.71,742.51 L116.32,742.48 L116.93,742.45 L117.54,742.41 L118.15,742.38 L118.76,742.35 L119.37,742.31 L119.97,742.27 L120.58,742.23 L121.19,742.19 L121.8,742.15 L122.41,742.11 L123.02,742.07 L123.63,742.02 L124.24,741.97 L124.85,741.92 L125.45,741.87 L126.06,741.82 L126.67,741.76 L127.28,741.7 L127.89,741.64 L128.5,741.58 L129.11,741.52 L129.72,741.45 L130.33,741.38 L130.94,741.31 L131.54,741.24 L132.15,741.16 L132.76,741.08 L133.37,741 L133.98,740.91 L134.59,740.82 L135.2,740.73 L135.81,740.63 L136.42,740.54 L137.03,740.43 L137.63,740.33 L138.24,740.22 L138.85,740.1 L139.46,739.98 L140.07,739.86 L140.68,739.73 L141.29,739.6 L141.9,739.46 L142.51,739.32 L143.12,739.17 L143.73,739.02 L144.33,738.86 L144.94,738.7 L145.55,738.53 L146.16,738.35 L146.77,738.17 L147.38,737.98 L147.99,737.79 L148.6,737.58 L149.21,737.37 L149.81,737.16 L150.42,736.93 L151.03,736.7 L151.64,736.46 L152.25,736.21 L152.86,735.95 L153.47,735.68 L154.08,735.4 L154.69,735.12 L155.3,734.82 L155.91,734.51 L156.51,734.19 L157.12,733.86 L157.73,733.52 L158.34,733.17 L158.95,732.81 L159.56,732.43 L160.17,732.04 L160.78,731.63 L161.39,731.22 L162,730.79 L162.6,730.34 L163.21,729.88 L163.82,729.4 L164.43,728.91 L165.04,728.4 L165.65,727.88 L166.26,727.34 L166.87,726.78 L167.48,726.2 L168.09,725.61 L168.69,724.99 L169.3,724.36 L169.91,723.71 L170.52,723.03 L171.13,722.34 L171.74,721.62 L172.35,720.88 L172.96,720.12 L173.57,719.34 L174.18,718.54 L174.78,717.71 L175.39,716.86 L176,715.98 L176.61,715.08 L177.22,714.16 L177.83,713.21 L178.44,712.23 L179.05,711.23 L179.66,710.2 L180.26,709.15 L180.87,708.07 L181.48,706.97 L182.09,705.83 L182.7,704.68 L183.31,703.49 L183.92,702.28 L184.53,701.05 L185.14,699.79 L185.75,698.5 L186.35,697.19 L186.96,695.86 L187.57,694.5 L188.18,693.12 L188.79,691.72 L189.4,690.3 L190.01,688.86 L190.62,687.4 L191.23,685.93 L191.84,684.44 L192.44,682.93 L193.05,681.42 L193.66,679.9 L194.27,678.37 L194.88,676.83 L195.49,675.3 L196.1,673.76 L196.71,672.23 L197.32,670.71 L197.93,669.2 L198.54,667.7 L199.14,666.23 L199.75,664.77 L200.36,663.35 L200.97,661.95 L201.58,660.59 L202.19,659.28 L202.8,658.01 L203.41,656.79 L204.02,655.63 L204.63,654.53 L205.23,653.5 L205.84,652.55 L206.45,651.68 L207.06,650.89 L207.67,650.2 L208.28,649.6 L208.89,649.11 L209.5,648.73 L210.11,648.47 L210.72,648.33 L211.32,648.31 L211.93,648.42 L212.54,648.67 L213.15,649.06 L213.76,649.59 L214.37,650.27 L214.98,651.1 L215.59,652.08 L216.2,653.2 L216.81,654.48 L217.41,655.91 L218.02,657.49 L218.63,659.21 L219.24,661.08 L219.85,663.08 L220.46,665.22 L221.07,667.48 L221.68,669.86 L222.29,672.35 L222.9,674.94 L223.5,677.61 L224.11,680.37 L224.72,683.19 L225.33,686.06 L225.94,688.97 L226.55,691.9 L227.16,694.84 L227.77,697.78 L228.38,700.71 L228.99,703.59 L229.59,706.43 L230.2,709.22 L230.81,711.92 L231.42,714.54 L232.03,717.07 L232.64,719.49 L233.25,721.79 L233.86,723.98 L234.47,726.03 L235.08,727.95 L235.68,729.74 L236.29,731.39 L236.9,732.91 L237.51,734.29 L238.12,735.54 L238.73,736.67 L239.34,737.67 L239.95,738.55 L240.56,739.33 L241.17,740.01 L241.77,740.59 L242.38,741.09 L242.99,741.52 L243.6,741.87 L244.21,742.17 L244.82,742.41 L245.43,742.61 L246.04,742.77 L246.65,742.9 L247.26,743 L247.86,743.08 L248.47,743.14 L249.08,743.18 L249.69,743.22 L250.3,743.24" fill="none" stroke="#3f4ea8" stroke-width="1.75"/>
<path d="M127,743.27 L127.63,743.26 L128.25,743.26 L128.88,743.26 L129.5,743.26 L130.13,743.26 L130.76,743.26 L131.38,743.25 L132.01,743.25 L132.63,743.25 L133.26,743.25 L133.89,743.25 L134.51,743.24 L135.14,743.24 L135.76,743.24 L136.39,743.24 L137.02,743.24 L137.64,743.23 L138.27,743.23 L138.89,743.23 L139.52,743.23 L140.15,743.22 L140.77,743.22 L141.4,743.22 L142.02,743.21 L142.65,743.21 L143.28,743.21 L143.9,743.2 L144.53,743.2 L145.15,743.2 L145.78,743.19 L146.41,743.19 L147.03,743.18 L147.66,743.18 L148.28,743.17 L148.91,743.17 L149.54,743.16 L150.16,743.16 L150.79,743.15 L151.41,743.15 L152.04,743.14 L152.67,743.13 L153.29,743.13 L153.92,743.12 L154.54,743.11 L155.17,743.11 L155.8,743.1 L156.42,743.09 L157.05,743.08 L157.67,743.08 L158.3,743.07 L158.93,743.06 L159.55,743.05 L160.18,743.04 L160.8,743.03 L161.43,743.02 L162.06,743.01 L162.68,743 L163.31,742.99 L163.93,742.97 L164.56,742.96 L165.19,742.95 L165.81,742.93 L166.44,742.92 L167.06,742.9 L167.69,742.89 L168.32,742.87 L168.94,742.86 L169.57,742.84 L170.19,742.82 L170.82,742.8 L171.45,742.78 L172.07,742.77 L172.7,742.74 L173.32,742.72 L173.95,742.7 L174.58,742.68 L175.2,742.65 L175.83,742.63 L176.45,742.6 L177.08,742.58 L177.71,742.55 L178.33,742.52 L178.96,742.49 L179.58,742.46 L180.21,742.43 L180.84,742.39 L181.46,742.36 L182.09,742.32 L182.71,742.28 L183.34,742.24 L183.97,742.2 L184.59,742.16 L185.22,742.12 L185.84,742.07 L186.47,742.02 L187.1,741.97 L187.72,741.92 L188.35,741.87 L188.97,741.82 L189.6,741.76 L190.23,741.7 L190.85,741.64 L191.48,741.57 L192.1,741.51 L192.73,741.44 L193.36,741.37 L193.98,741.29 L194.61,741.22 L195.23,741.14 L195.86,741.05 L196.49,740.97 L197.11,740.88 L197.74,740.79 L198.36,740.69 L198.99,740.59 L199.62,740.49 L200.24,740.38 L200.87,740.27 L201.49,740.15 L202.12,740.03 L202.75,739.91 L203.37,739.78 L204,739.64 L204.62,739.5 L205.25,739.36 L205.88,739.21 L206.5,739.05 L207.13,738.89 L207.75,738.72 L208.38,738.55 L209.01,738.37 L209.63,738.18 L210.26,737.99 L210.88,737.79 L211.51,737.58 L212.14,737.36 L212.76,737.14 L213.39,736.91 L214.01,736.67 L214.64,736.42 L215.27,736.16 L215.89,735.89 L216.52,735.61 L217.14,735.33 L217.77,735.03 L218.4,734.72 L219.02,734.4 L219.65,734.07 L220.27,733.72 L220.9,733.37 L221.53,733 L222.15,732.62 L222.78,732.23 L223.4,731.82 L224.03,731.39 L224.66,730.96 L225.28,730.5 L225.91,730.04 L226.53,729.55 L227.16,729.05 L227.79,728.53 L228.41,728 L229.04,727.45 L229.66,726.88 L230.29,726.29 L230.92,725.68 L231.54,725.05 L232.17,724.4 L232.79,723.73 L233.42,723.03 L234.05,722.32 L234.67,721.58 L235.3,720.82 L235.92,720.04 L236.55,719.23 L237.18,718.4 L237.8,717.55 L238.43,716.67 L239.05,715.76 L239.68,714.83 L240.31,713.87 L240.93,712.88 L241.56,711.87 L242.18,710.83 L242.81,709.77 L243.44,708.67 L244.06,707.55 L244.69,706.4 L245.31,705.23 L245.94,704.02 L246.57,702.79 L247.19,701.53 L247.82,700.24 L248.44,698.93 L249.07,697.59 L249.7,696.23 L250.32,694.84 L250.95,693.43 L251.57,691.99 L252.2,690.53 L252.83,689.06 L253.45,687.56 L254.08,686.05 L254.7,684.52 L255.33,682.97 L255.96,681.41 L256.58,679.85 L257.21,678.28 L257.83,676.7 L258.46,675.12 L259.09,673.54 L259.71,671.97 L260.34,670.41 L260.96,668.86 L261.59,667.33 L262.22,665.81 L262.84,664.33 L263.47,662.87 L264.09,661.45 L264.72,660.07 L265.35,658.73 L265.97,657.45 L266.6,656.23 L267.22,655.07 L267.85,653.97 L268.48,652.96 L269.1,652.03 L269.73,651.18 L270.35,650.43 L270.98,649.79 L271.61,649.25 L272.23,648.82 L272.86,648.52 L273.48,648.35 L274.11,648.3 L274.74,648.4 L275.36,648.63 L275.99,649.02 L276.61,649.55 L277.24,650.24 L277.87,651.08 L278.49,652.09 L279.12,653.25 L279.74,654.57 L280.37,656.05 L281,657.69 L281.62,659.48 L282.25,661.42 L282.87,663.51 L283.5,665.73 L284.13,668.09 L284.75,670.56 L285.38,673.15 L286,675.84 L286.63,678.63 L287.26,681.48 L287.88,684.41 L288.51,687.38 L289.13,690.38 L289.76,693.4 L290.39,696.43 L291.01,699.44 L291.64,702.43 L292.26,705.37 L292.89,708.25 L293.52,711.06 L294.14,713.78 L294.77,716.41 L295.39,718.92 L296.02,721.32 L296.65,723.59 L297.27,725.72 L297.9,727.72 L298.52,729.57 L299.15,731.28 L299.78,732.85 L300.4,734.27 L301.03,735.56 L301.65,736.71 L302.28,737.73 L302.91,738.63 L303.53,739.42 L304.16,740.1 L304.78,740.69 L305.41,741.19 L306.04,741.61 L306.66,741.96 L307.29,742.25 L307.91,742.48 L308.54,742.67 L309.17,742.82 L309.79,742.94 L310.42,743.04 L311.04,743.11 L311.67,743.16 L312.3,743.2 L312.92,743.23 L313.55,743.25 L314.17,743.27 L314.8,743.28" fill="none" stroke="#3f4ea8" stroke-width="1.75"/>
<rect x="55.5" y="554.5" width="272" height="198" fill="none" stroke="#3a3a3a" stroke-width="1"/>
<path d="M58.5,752.5v-2.2M58.5,554.5v2.2M67.5,752.5v-4.5M67.5,554.5v4.5M76.5,752.5v-2.2M76.5,554.5v2.2M84.5,752.5v-2.2M84.5,554.5v2.2M93.5,752.5v-2.2M93.5,554.5v2.2M102.5,752.5v-2.2M102.5,554.5v2.2M110.5,752.5v-4.5M110.5,554.5v4.5M119.5,752.5v-2.2M119.5,554.5v2.2M128.5,752.5v-2.2M128.5,554.5v2.2M136.5,752.5v-2.2M136.5,554.5v2.2M145.5,752.5v-2.2M145.5,554.5v2.2M154.5,752.5v-4.5M154.5,554.5v4.5M162.5,752.5v-2.2M162.5,554.5v2.2M171.5,752.5v-2.2M171.5,554.5v2.2M180.5,752.5v-2.2M180.5,554.5v2.2M188.5,752.5v-2.2M188.5,554.5v2.2M197.5,752.5v-4.5M197.5,554.5v4.5M206.5,752.5v-2.2M206.5,554.5v2.2M214.5,752.5v-2.2M214.5,554.5v2.2M223.5,752.5v-2.2M223.5,554.5v2.2M232.5,752.5v-2.2M232.5,554.5v2.2M240.5,752.5v-4.5M240.5,554.5v4.5M249.5,752.5v-2.2M249.5,554.5v2.2M258.5,752.5v-2.2M258.5,554.5v2.2M266.5,752.5v-2.2M266.5,554.5v2.2M275.5,752.5v-2.2M275.5,554.5v2.2M284.5,752.5v-4.5M284.5,554.5v4.5M292.5,752.5v-2.2M292.5,554.5v2.2M301.5,752.5v-2.2M301.5,554.5v2.2M309.5,752.5v-2.2M309.5,554.5v2.2M318.5,752.5v-2.2M318.5,554.5v2.2M55.5,748.5h2.2M327.5,748.5h-2.2M55.5,743.5h4.5M327.5,743.5h-4.5M55.5,738.5h2.2M327.5,738.5h-2.2M55.5,733.5h2.2M327.5,733.5h-2.2M55.5,727.5h2.2M327.5,727.5h-2.2M55.5,722.5h2.2M327.5,722.5h-2.2M55.5,717.5h3.2M327.5,717.5h-3.2M55.5,712.5h2.2M327.5,712.5h-2.2M55.5,707.5h2.2M327.5,707.5h-2.2M55.5,702.5h2.2M327.5,702.5h-2.2M55.5,697.5h2.2M327.5,697.5h-2.2M55.5,691.5h4.5M327.5,691.5h-4.5M55.5,686.5h2.2M327.5,686.5h-2.2M55.5,681.5h2.2M327.5,681.5h-2.2M55.5,676.5h2.2M327.5,676.5h-2.2M55.5,671.5h2.2M327.5,671.5h-2.2M55.5,666.5h3.2M327.5,666.5h-3.2M55.5,661.5h2.2M327.5,661.5h-2.2M55.5,655.5h2.2M327.5,655.5h-2.2M55.5,650.5h2.2M327.5,650.5h-2.2M55.5,645.5h2.2M327.5,645.5h-2.2M55.5,640.5h4.5M327.5,640.5h-4.5M55.5,635.5h2.2M327.5,635.5h-2.2M55.5,630.5h2.2M327.5,630.5h-2.2M55.5,625.5h2.2M327.5,625.5h-2.2M55.5,619.5h2.2M327.5,619.5h-2.2M55.5,614.5h3.2M327.5,614.5h-3.2M55.5,609.5h2.2M327.5,609.5h-2.2M55.5,604.5h2.2M327.5,604.5h-2.2M55.5,599.5h2.2M327.5,599.5h-2.2M55.5,594.5h2.2M327.5,594.5h-2.2M55.5,589.5h4.5M327.5,589.5h-4.5M55.5,583.5h2.2M327.5,583.5h-2.2M55.5,578.5h2.2M327.5,578.5h-2.2M55.5,573.5h2.2M327.5,573.5h-2.2M55.5,568.5h2.2M327.5,568.5h-2.2M55.5,563.5h3.2M327.5,563.5h-3.2M55.5,558.5h2.2M327.5,558.5h-2.2" stroke="#3a3a3a" stroke-width="1" fill="none"/>
<text x="50.7" y="748.26" font-size="12" text-anchor="end" font-weight="normal" font-style="normal" fill="#111" stroke="#111" stroke-width="0.1" font-family="Liberation Serif" letter-spacing="0.15">0.000</text>
<text x="50.7" y="696.86" font-size="12" text-anchor="end" font-weight="normal" font-style="normal" fill="#111" stroke="#111" stroke-width="0.1" font-family="Liberation Serif" letter-spacing="0.15">0.010</text>
<text x="50.7" y="645.46" font-size="12" text-anchor="end" font-weight="normal" font-style="normal" fill="#111" stroke="#111" stroke-width="0.1" font-family="Liberation Serif" letter-spacing="0.15">0.020</text>
<text x="50.7" y="594.06" font-size="12" text-anchor="end" font-weight="normal" font-style="normal" fill="#111" stroke="#111" stroke-width="0.1" font-family="Liberation Serif" letter-spacing="0.15">0.030</text>
<text x="67.5" y="765.76" font-size="12" text-anchor="middle" font-weight="normal" font-style="normal" fill="#111" stroke="#111" stroke-width="0.1" font-family="Liberation Serif" letter-spacing="0.15">0</text>
<text x="110.8" y="765.76" font-size="12" text-anchor="middle" font-weight="normal" font-style="normal" fill="#111" stroke="#111" stroke-width="0.1" font-family="Liberation Serif" letter-spacing="0.15">50</text>
<text x="154.1" y="765.76" font-size="12" text-anchor="middle" font-weight="normal" font-style="normal" fill="#111" stroke="#111" stroke-width="0.1" font-family="Liberation Serif" letter-spacing="0.15">100</text>
<text x="197.4" y="765.76" font-size="12" text-anchor="middle" font-weight="normal" font-style="normal" fill="#111" stroke="#111" stroke-width="0.1" font-family="Liberation Serif" letter-spacing="0.15">150</text>
<text x="240.7" y="765.76" font-size="12" text-anchor="middle" font-weight="normal" font-style="normal" fill="#111" stroke="#111" stroke-width="0.1" font-family="Liberation Serif" letter-spacing="0.15">200</text>
<text x="284" y="765.76" font-size="12" text-anchor="middle" font-weight="normal" font-style="normal" fill="#111" stroke="#111" stroke-width="0.1" font-family="Liberation Serif" letter-spacing="0.15">250</text>
<text x="325.6" y="765.76" font-size="12" text-anchor="middle" font-weight="normal" font-style="normal" fill="#111" stroke="#111" stroke-width="0.1" font-family="Liberation Serif" letter-spacing="0.15">300</text>
<text transform="translate(151.13,787.70) scale(0.9965,1)" font-size="18.99" font-family="Liberation Serif" font-weight="normal" font-style="normal" fill="#111" stroke="#111" stroke-width="0.15">Number</text>
<text transform="translate(16.20,694.89) rotate(-90) scale(0.9625,1)" font-size="20.31" font-family="Liberation Serif" font-weight="normal" font-style="normal" fill="#111" stroke="#111" stroke-width="0.15">Frequency</text>
<text transform="translate(65.83,578.50) scale(1.0495,1)" font-size="18.26" font-family="Liberation Serif" font-weight="normal" font-style="normal" fill="#111" stroke="#111" stroke-width="0.15">Lost Number</text>
<path d="M140,586.6 L171.4,613" stroke="#dc2530" stroke-width="1.7"/>
<path d="M156,663.6 L186.4,689" stroke="#3f4ea8" stroke-width="1.7"/>
<path d="M240,639 L265,661.6" stroke="#3f4ea8" stroke-width="1.7"/>
<text transform="translate(75.06,624.50) scale(1.0368,1)" font-size="20.43" font-family="Liberation Serif" font-weight="normal" font-style="italic" fill="#111" stroke="#111" stroke-width="0.15">α</text>
<text transform="translate(90.97,626.66) scale(0.9556,1)" font-size="23.60" font-family="Liberation Serif" font-weight="normal" font-style="normal" fill="#111" stroke="#111" stroke-width="0.15">=</text>
<text transform="translate(112.03,624.50) scale(1.1213,1)" font-size="17.27" font-family="Liberation Serif" font-weight="normal" font-style="normal" fill="#111" stroke="#111" stroke-width="0.15">0.21,</text>
<text transform="translate(62.08,647.10) scale(0.8767,1)" font-size="18.72" font-family="Liberation Serif" font-weight="normal" font-style="italic" fill="#111" stroke="#111" stroke-width="0.15">p</text>
<text transform="translate(70.89,651.20) scale(1.4934,1)" font-size="13.80" font-family="Liberation Serif" font-weight="normal" font-style="italic" fill="#111" stroke="#111" stroke-width="0.15">fail</text>
<text transform="translate(98.48,648.37) scale(1.0741,1)" font-size="20.80" font-family="Liberation Serif" font-weight="normal" font-style="normal" fill="#111" stroke="#111" stroke-width="0.15">=</text>
<text transform="translate(110.27,647.30) scale(1.0315,1)" font-size="18.64" font-family="Liberation Serif" font-weight="normal" font-style="normal" fill="#111" stroke="#111" stroke-width="0.15">14.54%</text>
<text transform="translate(220.49,607.70) scale(1.0769,1)" font-size="18.94" font-family="Liberation Serif" font-weight="normal" font-style="italic" fill="#111" stroke="#111" stroke-width="0.15">α</text>
<text transform="translate(236.75,609.94) scale(1.0638,1)" font-size="21.60" font-family="Liberation Serif" font-weight="normal" font-style="normal" fill="#111" stroke="#111" stroke-width="0.15">=</text>
<text transform="translate(258.01,607.70) scale(1.1414,1)" font-size="17.38" font-family="Liberation Serif" font-weight="normal" font-style="normal" fill="#111" stroke="#111" stroke-width="0.15">0.25,</text>
<text transform="translate(212.51,630.80) scale(1.0314,1)" font-size="19.57" font-family="Liberation Serif" font-weight="normal" font-style="italic" fill="#111" stroke="#111" stroke-width="0.15">p</text>
<text transform="translate(220.89,634.40) scale(1.5157,1)" font-size="13.80" font-family="Liberation Serif" font-weight="normal" font-style="italic" fill="#111" stroke="#111" stroke-width="0.15">fail</text>
<text transform="translate(248.86,630.10) scale(1.1847,1)" font-size="17.60" font-family="Liberation Serif" font-weight="normal" font-style="normal" fill="#111" stroke="#111" stroke-width="0.15">=</text>
<text transform="translate(260.42,631.00) scale(1.2085,1)" font-size="16.15" font-family="Liberation Serif" font-weight="normal" font-style="normal" fill="#111" stroke="#111" stroke-width="0.15">0.49%</text>
<path d="M395.3,561.7 C396.97,561.7 402.5,561.38 405.3,561.7 C408.1,562.02 410.05,562.38 412.1,563.6 C414.15,564.82 415.78,566.3 417.6,569 C419.42,571.7 421.2,574.83 423,579.8 C424.8,584.77 426.6,591.55 428.4,598.8 C430.2,606.05 431.98,615.15 433.8,623.3 C435.62,631.45 437.48,639.12 439.3,647.7 C441.12,656.28 442.45,664.4 444.7,674.8 C446.95,685.2 450.08,701.05 452.8,710.1 C455.52,719.15 458.28,724.13 461,729.1 C463.72,734.07 465.93,736.83 469.1,739.9 C472.27,742.97 475.48,745.68 480,747.5 C484.52,749.32 493.5,750.25 496.2,750.8 L496.2,751.9 L395.3,751.9 Z" fill="#b4b4b4"/>
<path d="M395.3,561.7 C396.97,561.7 402.5,561.38 405.3,561.7 C408.1,562.02 410.05,562.38 412.1,563.6 C414.15,564.82 415.78,566.3 417.6,569 C419.42,571.7 421.2,574.83 423,579.8 C424.8,584.77 426.6,591.55 428.4,598.8 C430.2,606.05 431.98,615.15 433.8,623.3 C435.62,631.45 437.48,639.12 439.3,647.7 C441.12,656.28 442.45,664.4 444.7,674.8 C446.95,685.2 450.08,701.05 452.8,710.1 C455.52,719.15 458.28,724.13 461,729.1 C463.72,734.07 465.93,736.83 469.1,739.9 C472.27,742.97 475.48,745.68 480,747.5 C484.52,749.32 488.7,750.12 496.2,750.8 C503.7,751.48 514.37,751.43 525,751.6 C535.63,751.77 547.5,751.73 560,751.8 C572.5,751.87 583.9,751.97 600,752 C616.1,752.03 647.17,752 656.6,752" fill="none" stroke="#111" stroke-width="2"/>
<rect x="496.4" y="728.4" width="58" height="30.2" fill="#e5ecdb" fill-opacity="0.45" stroke="#111" stroke-width="1.1" stroke-dasharray="1.1,1.1"/>
<rect x="382.5" y="552.5" width="287" height="208" fill="none" stroke="#3a3a3a" stroke-width="1"/>
<path d="M384.5,760.5v-2.2M384.5,552.5v2.2M394.5,760.5v-4.5M394.5,552.5v4.5M405.5,760.5v-2.2M405.5,552.5v2.2M415.5,760.5v-2.2M415.5,552.5v2.2M426.5,760.5v-2.2M426.5,552.5v2.2M436.5,760.5v-2.2M436.5,552.5v2.2M446.5,760.5v-4.5M446.5,552.5v4.5M457.5,760.5v-2.2M457.5,552.5v2.2M467.5,760.5v-2.2M467.5,552.5v2.2M478.5,760.5v-2.2M478.5,552.5v2.2M488.5,760.5v-2.2M488.5,552.5v2.2M499.5,760.5v-4.5M499.5,552.5v4.5M509.5,760.5v-2.2M509.5,552.5v2.2M519.5,760.5v-2.2M519.5,552.5v2.2M530.5,760.5v-2.2M530.5,552.5v2.2M540.5,760.5v-2.2M540.5,552.5v2.2M551.5,760.5v-4.5M551.5,552.5v4.5M561.5,760.5v-2.2M561.5,552.5v2.2M571.5,760.5v-2.2M571.5,552.5v2.2M582.5,760.5v-2.2M582.5,552.5v2.2M592.5,760.5v-2.2M592.5,552.5v2.2M603.5,760.5v-4.5M603.5,552.5v4.5M613.5,760.5v-2.2M613.5,552.5v2.2M624.5,760.5v-2.2M624.5,552.5v2.2M634.5,760.5v-2.2M634.5,552.5v2.2M644.5,760.5v-2.2M644.5,552.5v2.2M655.5,760.5v-4.5M655.5,552.5v4.5M665.5,760.5v-2.2M665.5,552.5v2.2M382.5,751.5h4.5M669.5,751.5h-4.5M382.5,742.5h2.2M669.5,742.5h-2.2M382.5,732.5h3.2M669.5,732.5h-3.2M382.5,723.5h2.2M669.5,723.5h-2.2M382.5,713.5h4.5M669.5,713.5h-4.5M382.5,704.5h2.2M669.5,704.5h-2.2M382.5,694.5h3.2M669.5,694.5h-3.2M382.5,685.5h2.2M669.5,685.5h-2.2M382.5,675.5h4.5M669.5,675.5h-4.5M382.5,666.5h2.2M669.5,666.5h-2.2M382.5,656.5h3.2M669.5,656.5h-3.2M382.5,647.5h2.2M669.5,647.5h-2.2M382.5,637.5h4.5M669.5,637.5h-4.5M382.5,628.5h2.2M669.5,628.5h-2.2M382.5,618.5h3.2M669.5,618.5h-3.2M382.5,609.5h2.2M669.5,609.5h-2.2M382.5,599.5h4.5M669.5,599.5h-4.5M382.5,589.5h2.2M669.5,589.5h-2.2M382.5,580.5h3.2M669.5,580.5h-3.2M382.5,570.5h2.2M669.5,570.5h-2.2M382.5,561.5h4.5M669.5,561.5h-4.5" stroke="#3a3a3a" stroke-width="1" fill="none"/>
<text x="376.8" y="756.82" font-size="12.5" text-anchor="end" font-weight="normal" font-style="normal" fill="#111" stroke="#111" stroke-width="0.1" font-family="Liberation Serif" letter-spacing="0.15">0.0</text>
<text x="376.8" y="718.72" font-size="12.5" text-anchor="end" font-weight="normal" font-style="normal" fill="#111" stroke="#111" stroke-width="0.1" font-family="Liberation Serif" letter-spacing="0.15">0.2</text>
<text x="376.8" y="680.62" font-size="12.5" text-anchor="end" font-weight="normal" font-style="normal" fill="#111" stroke="#111" stroke-width="0.1" font-family="Liberation Serif" letter-spacing="0.15">0.4</text>
<text x="376.8" y="642.52" font-size="12.5" text-anchor="end" font-weight="normal" font-style="normal" fill="#111" stroke="#111" stroke-width="0.1" font-family="Liberation Serif" letter-spacing="0.15">0.6</text>
<text x="376.8" y="604.42" font-size="12.5" text-anchor="end" font-weight="normal" font-style="normal" fill="#111" stroke="#111" stroke-width="0.1" font-family="Liberation Serif" letter-spacing="0.15">0.8</text>
<text x="376.8" y="566.32" font-size="12.5" text-anchor="end" font-weight="normal" font-style="normal" fill="#111" stroke="#111" stroke-width="0.1" font-family="Liberation Serif" letter-spacing="0.15">1.0</text>
<text x="394.6" y="775.96" font-size="12" text-anchor="middle" font-weight="normal" font-style="normal" fill="#111" stroke="#111" stroke-width="0.1" font-family="Liberation Serif" letter-spacing="0.15">0.15</text>
<text x="446.7" y="775.96" font-size="12" text-anchor="middle" font-weight="normal" font-style="normal" fill="#111" stroke="#111" stroke-width="0.1" font-family="Liberation Serif" letter-spacing="0.15">0.20</text>
<text x="498.8" y="775.96" font-size="12" text-anchor="middle" font-weight="normal" font-style="normal" fill="#111" stroke="#111" stroke-width="0.1" font-family="Liberation Serif" letter-spacing="0.15">0.25</text>
<text x="550.9" y="775.96" font-size="12" text-anchor="middle" font-weight="normal" font-style="normal" fill="#111" stroke="#111" stroke-width="0.1" font-family="Liberation Serif" letter-spacing="0.15">0.30</text>
<text x="603" y="775.96" font-size="12" text-anchor="middle" font-weight="normal" font-style="normal" fill="#111" stroke="#111" stroke-width="0.1" font-family="Liberation Serif" letter-spacing="0.15">0.35</text>
<text x="655.1" y="775.96" font-size="12" text-anchor="middle" font-weight="normal" font-style="normal" fill="#111" stroke="#111" stroke-width="0.1" font-family="Liberation Serif" letter-spacing="0.15">0.40</text>
<text transform="translate(531.36,791.30) scale(1.0053,1)" font-size="21.06" font-family="Liberation Serif" font-weight="normal" font-style="italic" fill="#111" stroke="#111" stroke-width="0.15">α</text>
<text transform="translate(491.02,708.40) scale(0.9985,1)" font-size="19.30" font-family="Liberation Serif" font-weight="normal" font-style="normal" fill="#111" stroke="#111" stroke-width="0.15">Proper range of alpha</text>
<path d="M541.6,739.6 L574,710" stroke="#111" stroke-width="1.4"/>
<text transform="translate(556.81,578.40) scale(1.0183,1)" font-size="18.99" font-family="Liberation Serif" font-weight="bold" font-style="normal" fill="#b8232d" stroke="#b8232d" stroke-width="0.15">Alpha = 0.26</text>
<text transform="translate(355.80,678.60) rotate(-90) scale(0.9058,1)" font-size="20.77" font-family="Liberation Serif" font-weight="normal" font-style="italic" fill="#111" stroke="#111" stroke-width="0.15">P</text>
<text transform="translate(359.60,669.90) rotate(-90) scale(1.4600,1)" font-size="13.80" font-family="Liberation Serif" font-weight="normal" font-style="italic" fill="#111" stroke="#111" stroke-width="0.15">fail</text>
</svg>
</body></html>
